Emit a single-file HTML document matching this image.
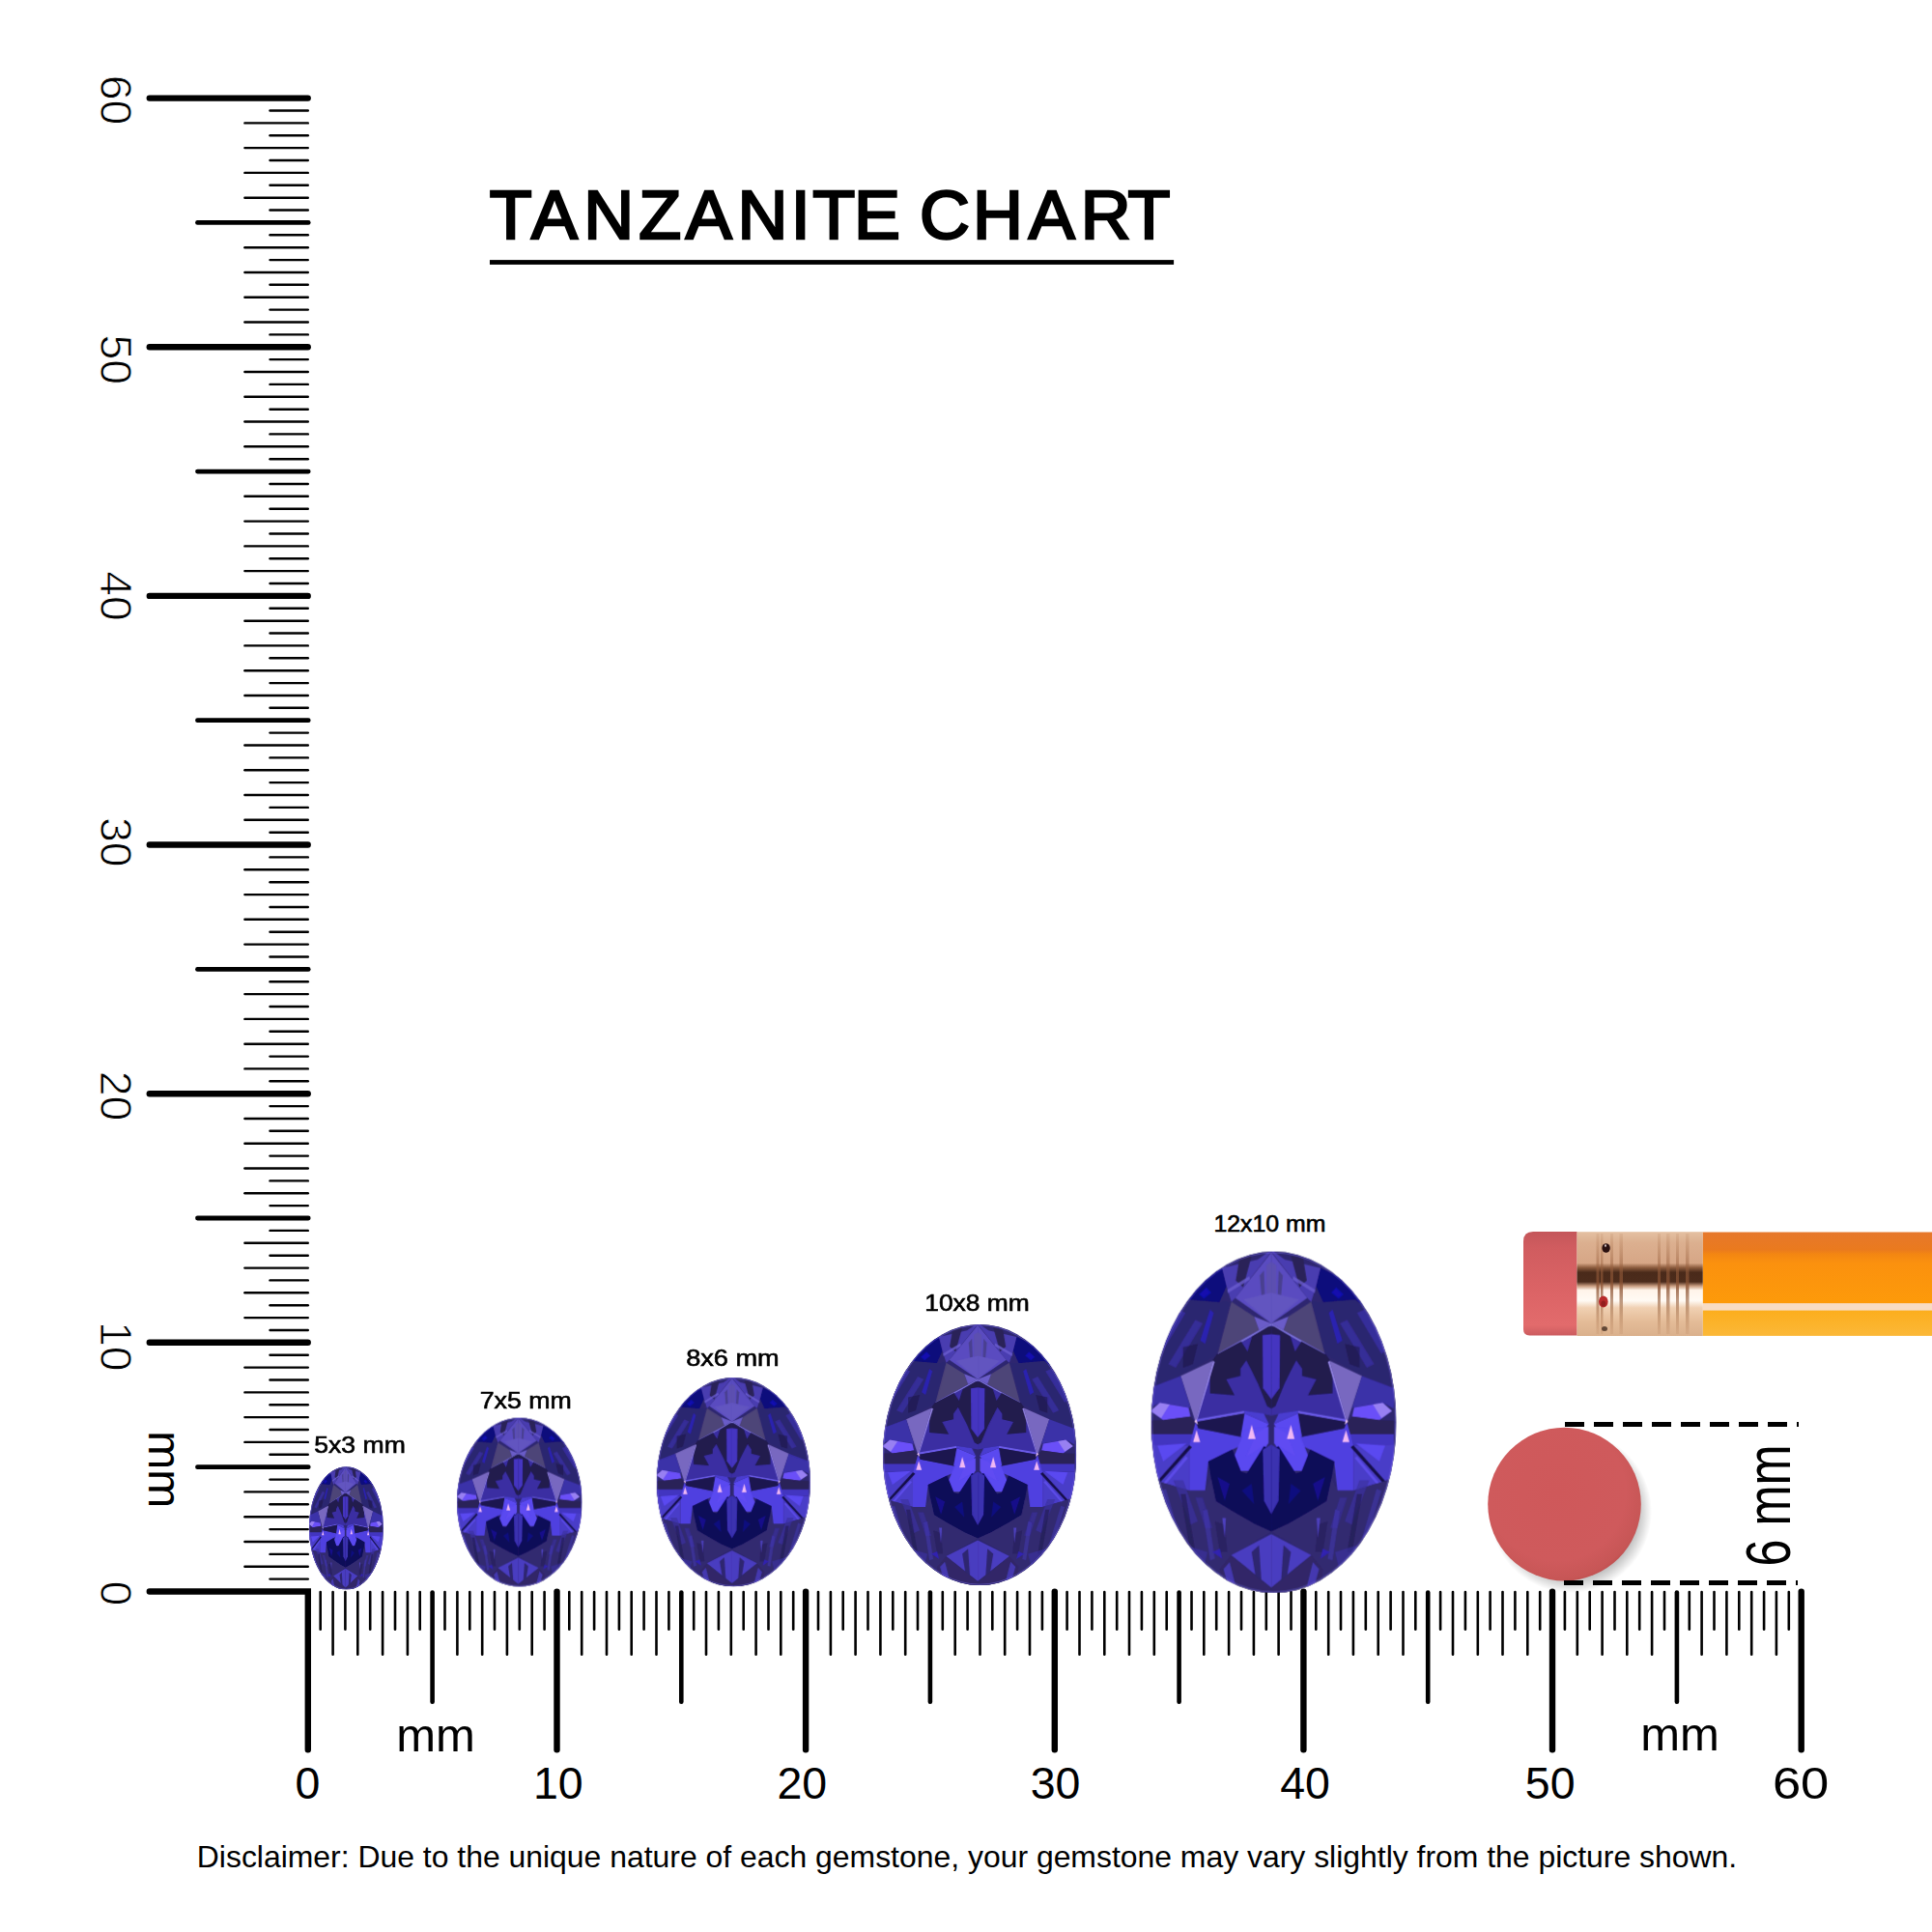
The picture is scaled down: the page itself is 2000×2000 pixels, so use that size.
<!DOCTYPE html><html><head><meta charset="utf-8"><title>Tanzanite Chart</title><style>html,body{margin:0;padding:0;background:#fff;width:2000px;height:2000px;overflow:hidden}svg{display:block}</style></head><body><svg width="2000" height="2000" viewBox="0 0 2000 2000"><g stroke="#000" stroke-linecap="round"><line x1="279.5" y1="1634.6" x2="318.8" y2="1634.6" stroke-width="2.4"/><line x1="253.4" y1="1621.7" x2="318.8" y2="1621.7" stroke-width="2.4"/><line x1="279.5" y1="1608.9" x2="318.8" y2="1608.9" stroke-width="2.4"/><line x1="253.4" y1="1596" x2="318.8" y2="1596" stroke-width="2.4"/><line x1="279.5" y1="1583.1" x2="318.8" y2="1583.1" stroke-width="2.4"/><line x1="253.4" y1="1570.2" x2="318.8" y2="1570.2" stroke-width="2.4"/><line x1="279.5" y1="1557.3" x2="318.8" y2="1557.3" stroke-width="2.4"/><line x1="253.4" y1="1544.4" x2="318.8" y2="1544.4" stroke-width="2.4"/><line x1="279.5" y1="1531.6" x2="318.8" y2="1531.6" stroke-width="2.4"/><line x1="204.5" y1="1518.7" x2="319.2" y2="1518.7" stroke-width="4.8"/><line x1="279.5" y1="1505.8" x2="318.8" y2="1505.8" stroke-width="2.4"/><line x1="253.4" y1="1492.9" x2="318.8" y2="1492.9" stroke-width="2.4"/><line x1="279.5" y1="1480" x2="318.8" y2="1480" stroke-width="2.4"/><line x1="253.4" y1="1467.1" x2="318.8" y2="1467.1" stroke-width="2.4"/><line x1="279.5" y1="1454.3" x2="318.8" y2="1454.3" stroke-width="2.4"/><line x1="253.4" y1="1441.4" x2="318.8" y2="1441.4" stroke-width="2.4"/><line x1="279.5" y1="1428.5" x2="318.8" y2="1428.5" stroke-width="2.4"/><line x1="253.4" y1="1415.6" x2="318.8" y2="1415.6" stroke-width="2.4"/><line x1="279.5" y1="1402.7" x2="318.8" y2="1402.7" stroke-width="2.4"/><line x1="154.8" y1="1389.8" x2="318.7" y2="1389.8" stroke-width="6.4"/><line x1="279.5" y1="1377" x2="318.8" y2="1377" stroke-width="2.4"/><line x1="253.4" y1="1364.1" x2="318.8" y2="1364.1" stroke-width="2.4"/><line x1="279.5" y1="1351.2" x2="318.8" y2="1351.2" stroke-width="2.4"/><line x1="253.4" y1="1338.3" x2="318.8" y2="1338.3" stroke-width="2.4"/><line x1="279.5" y1="1325.4" x2="318.8" y2="1325.4" stroke-width="2.4"/><line x1="253.4" y1="1312.6" x2="318.8" y2="1312.6" stroke-width="2.4"/><line x1="279.5" y1="1299.7" x2="318.8" y2="1299.7" stroke-width="2.4"/><line x1="253.4" y1="1286.8" x2="318.8" y2="1286.8" stroke-width="2.4"/><line x1="279.5" y1="1273.9" x2="318.8" y2="1273.9" stroke-width="2.4"/><line x1="204.5" y1="1261" x2="319.2" y2="1261" stroke-width="4.8"/><line x1="279.5" y1="1248.1" x2="318.8" y2="1248.1" stroke-width="2.4"/><line x1="253.4" y1="1235.3" x2="318.8" y2="1235.3" stroke-width="2.4"/><line x1="279.5" y1="1222.4" x2="318.8" y2="1222.4" stroke-width="2.4"/><line x1="253.4" y1="1209.5" x2="318.8" y2="1209.5" stroke-width="2.4"/><line x1="279.5" y1="1196.6" x2="318.8" y2="1196.6" stroke-width="2.4"/><line x1="253.4" y1="1183.7" x2="318.8" y2="1183.7" stroke-width="2.4"/><line x1="279.5" y1="1170.8" x2="318.8" y2="1170.8" stroke-width="2.4"/><line x1="253.4" y1="1158" x2="318.8" y2="1158" stroke-width="2.4"/><line x1="279.5" y1="1145.1" x2="318.8" y2="1145.1" stroke-width="2.4"/><line x1="154.8" y1="1132.2" x2="318.7" y2="1132.2" stroke-width="6.4"/><line x1="279.5" y1="1119.3" x2="318.8" y2="1119.3" stroke-width="2.4"/><line x1="253.4" y1="1106.4" x2="318.8" y2="1106.4" stroke-width="2.4"/><line x1="279.5" y1="1093.6" x2="318.8" y2="1093.6" stroke-width="2.4"/><line x1="253.4" y1="1080.7" x2="318.8" y2="1080.7" stroke-width="2.4"/><line x1="279.5" y1="1067.8" x2="318.8" y2="1067.8" stroke-width="2.4"/><line x1="253.4" y1="1054.9" x2="318.8" y2="1054.9" stroke-width="2.4"/><line x1="279.5" y1="1042" x2="318.8" y2="1042" stroke-width="2.4"/><line x1="253.4" y1="1029.1" x2="318.8" y2="1029.1" stroke-width="2.4"/><line x1="279.5" y1="1016.3" x2="318.8" y2="1016.3" stroke-width="2.4"/><line x1="204.5" y1="1003.4" x2="319.2" y2="1003.4" stroke-width="4.8"/><line x1="279.5" y1="990.5" x2="318.8" y2="990.5" stroke-width="2.4"/><line x1="253.4" y1="977.6" x2="318.8" y2="977.6" stroke-width="2.4"/><line x1="279.5" y1="964.7" x2="318.8" y2="964.7" stroke-width="2.4"/><line x1="253.4" y1="951.8" x2="318.8" y2="951.8" stroke-width="2.4"/><line x1="279.5" y1="939" x2="318.8" y2="939" stroke-width="2.4"/><line x1="253.4" y1="926.1" x2="318.8" y2="926.1" stroke-width="2.4"/><line x1="279.5" y1="913.2" x2="318.8" y2="913.2" stroke-width="2.4"/><line x1="253.4" y1="900.3" x2="318.8" y2="900.3" stroke-width="2.4"/><line x1="279.5" y1="887.4" x2="318.8" y2="887.4" stroke-width="2.4"/><line x1="154.8" y1="874.5" x2="318.7" y2="874.5" stroke-width="6.4"/><line x1="279.5" y1="861.7" x2="318.8" y2="861.7" stroke-width="2.4"/><line x1="253.4" y1="848.8" x2="318.8" y2="848.8" stroke-width="2.4"/><line x1="279.5" y1="835.9" x2="318.8" y2="835.9" stroke-width="2.4"/><line x1="253.4" y1="823" x2="318.8" y2="823" stroke-width="2.4"/><line x1="279.5" y1="810.1" x2="318.8" y2="810.1" stroke-width="2.4"/><line x1="253.4" y1="797.3" x2="318.8" y2="797.3" stroke-width="2.4"/><line x1="279.5" y1="784.4" x2="318.8" y2="784.4" stroke-width="2.4"/><line x1="253.4" y1="771.5" x2="318.8" y2="771.5" stroke-width="2.4"/><line x1="279.5" y1="758.6" x2="318.8" y2="758.6" stroke-width="2.4"/><line x1="204.5" y1="745.7" x2="319.2" y2="745.7" stroke-width="4.8"/><line x1="279.5" y1="732.8" x2="318.8" y2="732.8" stroke-width="2.4"/><line x1="253.4" y1="720" x2="318.8" y2="720" stroke-width="2.4"/><line x1="279.5" y1="707.1" x2="318.8" y2="707.1" stroke-width="2.4"/><line x1="253.4" y1="694.2" x2="318.8" y2="694.2" stroke-width="2.4"/><line x1="279.5" y1="681.3" x2="318.8" y2="681.3" stroke-width="2.4"/><line x1="253.4" y1="668.4" x2="318.8" y2="668.4" stroke-width="2.4"/><line x1="279.5" y1="655.5" x2="318.8" y2="655.5" stroke-width="2.4"/><line x1="253.4" y1="642.7" x2="318.8" y2="642.7" stroke-width="2.4"/><line x1="279.5" y1="629.8" x2="318.8" y2="629.8" stroke-width="2.4"/><line x1="154.8" y1="616.9" x2="318.7" y2="616.9" stroke-width="6.4"/><line x1="279.5" y1="604" x2="318.8" y2="604" stroke-width="2.4"/><line x1="253.4" y1="591.1" x2="318.8" y2="591.1" stroke-width="2.4"/><line x1="279.5" y1="578.3" x2="318.8" y2="578.3" stroke-width="2.4"/><line x1="253.4" y1="565.4" x2="318.8" y2="565.4" stroke-width="2.4"/><line x1="279.5" y1="552.5" x2="318.8" y2="552.5" stroke-width="2.4"/><line x1="253.4" y1="539.6" x2="318.8" y2="539.6" stroke-width="2.4"/><line x1="279.5" y1="526.7" x2="318.8" y2="526.7" stroke-width="2.4"/><line x1="253.4" y1="513.8" x2="318.8" y2="513.8" stroke-width="2.4"/><line x1="279.5" y1="501" x2="318.8" y2="501" stroke-width="2.4"/><line x1="204.5" y1="488.1" x2="319.2" y2="488.1" stroke-width="4.8"/><line x1="279.5" y1="475.2" x2="318.8" y2="475.2" stroke-width="2.4"/><line x1="253.4" y1="462.3" x2="318.8" y2="462.3" stroke-width="2.4"/><line x1="279.5" y1="449.4" x2="318.8" y2="449.4" stroke-width="2.4"/><line x1="253.4" y1="436.5" x2="318.8" y2="436.5" stroke-width="2.4"/><line x1="279.5" y1="423.7" x2="318.8" y2="423.7" stroke-width="2.4"/><line x1="253.4" y1="410.8" x2="318.8" y2="410.8" stroke-width="2.4"/><line x1="279.5" y1="397.9" x2="318.8" y2="397.9" stroke-width="2.4"/><line x1="253.4" y1="385" x2="318.8" y2="385" stroke-width="2.4"/><line x1="279.5" y1="372.1" x2="318.8" y2="372.1" stroke-width="2.4"/><line x1="154.8" y1="359.2" x2="318.7" y2="359.2" stroke-width="6.4"/><line x1="279.5" y1="346.4" x2="318.8" y2="346.4" stroke-width="2.4"/><line x1="253.4" y1="333.5" x2="318.8" y2="333.5" stroke-width="2.4"/><line x1="279.5" y1="320.6" x2="318.8" y2="320.6" stroke-width="2.4"/><line x1="253.4" y1="307.7" x2="318.8" y2="307.7" stroke-width="2.4"/><line x1="279.5" y1="294.8" x2="318.8" y2="294.8" stroke-width="2.4"/><line x1="253.4" y1="282" x2="318.8" y2="282" stroke-width="2.4"/><line x1="279.5" y1="269.1" x2="318.8" y2="269.1" stroke-width="2.4"/><line x1="253.4" y1="256.2" x2="318.8" y2="256.2" stroke-width="2.4"/><line x1="279.5" y1="243.3" x2="318.8" y2="243.3" stroke-width="2.4"/><line x1="204.5" y1="230.4" x2="319.2" y2="230.4" stroke-width="4.8"/><line x1="279.5" y1="217.5" x2="318.8" y2="217.5" stroke-width="2.4"/><line x1="253.4" y1="204.7" x2="318.8" y2="204.7" stroke-width="2.4"/><line x1="279.5" y1="191.8" x2="318.8" y2="191.8" stroke-width="2.4"/><line x1="253.4" y1="178.9" x2="318.8" y2="178.9" stroke-width="2.4"/><line x1="279.5" y1="166" x2="318.8" y2="166" stroke-width="2.4"/><line x1="253.4" y1="153.1" x2="318.8" y2="153.1" stroke-width="2.4"/><line x1="279.5" y1="140.2" x2="318.8" y2="140.2" stroke-width="2.4"/><line x1="253.4" y1="127.4" x2="318.8" y2="127.4" stroke-width="2.4"/><line x1="279.5" y1="114.5" x2="318.8" y2="114.5" stroke-width="2.4"/><line x1="154.8" y1="101.6" x2="318.7" y2="101.6" stroke-width="6.4"/></g><g stroke="#000" stroke-linecap="round"><line x1="331.7" y1="1648" x2="331.7" y2="1686.7" stroke-width="2.6"/><line x1="344.6" y1="1648" x2="344.6" y2="1712.7" stroke-width="2.6"/><line x1="357.4" y1="1648" x2="357.4" y2="1686.7" stroke-width="2.6"/><line x1="370.3" y1="1648" x2="370.3" y2="1712.7" stroke-width="2.6"/><line x1="383.2" y1="1648" x2="383.2" y2="1686.7" stroke-width="2.6"/><line x1="396.1" y1="1648" x2="396.1" y2="1712.7" stroke-width="2.6"/><line x1="409" y1="1648" x2="409" y2="1686.7" stroke-width="2.6"/><line x1="421.9" y1="1648" x2="421.9" y2="1712.7" stroke-width="2.6"/><line x1="434.7" y1="1648" x2="434.7" y2="1686.7" stroke-width="2.6"/><line x1="447.6" y1="1648.5" x2="447.6" y2="1761.8" stroke-width="4.6"/><line x1="460.5" y1="1648" x2="460.5" y2="1686.7" stroke-width="2.6"/><line x1="473.4" y1="1648" x2="473.4" y2="1712.7" stroke-width="2.6"/><line x1="486.3" y1="1648" x2="486.3" y2="1686.7" stroke-width="2.6"/><line x1="499.2" y1="1648" x2="499.2" y2="1712.7" stroke-width="2.6"/><line x1="512" y1="1648" x2="512" y2="1686.7" stroke-width="2.6"/><line x1="524.9" y1="1648" x2="524.9" y2="1712.7" stroke-width="2.6"/><line x1="537.8" y1="1648" x2="537.8" y2="1686.7" stroke-width="2.6"/><line x1="550.7" y1="1648" x2="550.7" y2="1712.7" stroke-width="2.6"/><line x1="563.6" y1="1648" x2="563.6" y2="1686.7" stroke-width="2.6"/><line x1="576.5" y1="1647.6" x2="576.5" y2="1811.3" stroke-width="6.4"/><line x1="589.3" y1="1648" x2="589.3" y2="1686.7" stroke-width="2.6"/><line x1="602.2" y1="1648" x2="602.2" y2="1712.7" stroke-width="2.6"/><line x1="615.1" y1="1648" x2="615.1" y2="1686.7" stroke-width="2.6"/><line x1="628" y1="1648" x2="628" y2="1712.7" stroke-width="2.6"/><line x1="640.9" y1="1648" x2="640.9" y2="1686.7" stroke-width="2.6"/><line x1="653.7" y1="1648" x2="653.7" y2="1712.7" stroke-width="2.6"/><line x1="666.6" y1="1648" x2="666.6" y2="1686.7" stroke-width="2.6"/><line x1="679.5" y1="1648" x2="679.5" y2="1712.7" stroke-width="2.6"/><line x1="692.4" y1="1648" x2="692.4" y2="1686.7" stroke-width="2.6"/><line x1="705.3" y1="1648.5" x2="705.3" y2="1761.8" stroke-width="4.6"/><line x1="718.2" y1="1648" x2="718.2" y2="1686.7" stroke-width="2.6"/><line x1="731" y1="1648" x2="731" y2="1712.7" stroke-width="2.6"/><line x1="743.9" y1="1648" x2="743.9" y2="1686.7" stroke-width="2.6"/><line x1="756.8" y1="1648" x2="756.8" y2="1712.7" stroke-width="2.6"/><line x1="769.7" y1="1648" x2="769.7" y2="1686.7" stroke-width="2.6"/><line x1="782.6" y1="1648" x2="782.6" y2="1712.7" stroke-width="2.6"/><line x1="795.5" y1="1648" x2="795.5" y2="1686.7" stroke-width="2.6"/><line x1="808.3" y1="1648" x2="808.3" y2="1712.7" stroke-width="2.6"/><line x1="821.2" y1="1648" x2="821.2" y2="1686.7" stroke-width="2.6"/><line x1="834.1" y1="1647.6" x2="834.1" y2="1811.3" stroke-width="6.4"/><line x1="847" y1="1648" x2="847" y2="1686.7" stroke-width="2.6"/><line x1="859.9" y1="1648" x2="859.9" y2="1712.7" stroke-width="2.6"/><line x1="872.7" y1="1648" x2="872.7" y2="1686.7" stroke-width="2.6"/><line x1="885.6" y1="1648" x2="885.6" y2="1712.7" stroke-width="2.6"/><line x1="898.5" y1="1648" x2="898.5" y2="1686.7" stroke-width="2.6"/><line x1="911.4" y1="1648" x2="911.4" y2="1712.7" stroke-width="2.6"/><line x1="924.3" y1="1648" x2="924.3" y2="1686.7" stroke-width="2.6"/><line x1="937.2" y1="1648" x2="937.2" y2="1712.7" stroke-width="2.6"/><line x1="950" y1="1648" x2="950" y2="1686.7" stroke-width="2.6"/><line x1="962.9" y1="1648.5" x2="962.9" y2="1761.8" stroke-width="4.6"/><line x1="975.8" y1="1648" x2="975.8" y2="1686.7" stroke-width="2.6"/><line x1="988.7" y1="1648" x2="988.7" y2="1712.7" stroke-width="2.6"/><line x1="1001.6" y1="1648" x2="1001.6" y2="1686.7" stroke-width="2.6"/><line x1="1014.5" y1="1648" x2="1014.5" y2="1712.7" stroke-width="2.6"/><line x1="1027.3" y1="1648" x2="1027.3" y2="1686.7" stroke-width="2.6"/><line x1="1040.2" y1="1648" x2="1040.2" y2="1712.7" stroke-width="2.6"/><line x1="1053.1" y1="1648" x2="1053.1" y2="1686.7" stroke-width="2.6"/><line x1="1066" y1="1648" x2="1066" y2="1712.7" stroke-width="2.6"/><line x1="1078.9" y1="1648" x2="1078.9" y2="1686.7" stroke-width="2.6"/><line x1="1091.8" y1="1647.6" x2="1091.8" y2="1811.3" stroke-width="6.4"/><line x1="1104.6" y1="1648" x2="1104.6" y2="1686.7" stroke-width="2.6"/><line x1="1117.5" y1="1648" x2="1117.5" y2="1712.7" stroke-width="2.6"/><line x1="1130.4" y1="1648" x2="1130.4" y2="1686.7" stroke-width="2.6"/><line x1="1143.3" y1="1648" x2="1143.3" y2="1712.7" stroke-width="2.6"/><line x1="1156.2" y1="1648" x2="1156.2" y2="1686.7" stroke-width="2.6"/><line x1="1169" y1="1648" x2="1169" y2="1712.7" stroke-width="2.6"/><line x1="1181.9" y1="1648" x2="1181.9" y2="1686.7" stroke-width="2.6"/><line x1="1194.8" y1="1648" x2="1194.8" y2="1712.7" stroke-width="2.6"/><line x1="1207.7" y1="1648" x2="1207.7" y2="1686.7" stroke-width="2.6"/><line x1="1220.6" y1="1648.5" x2="1220.6" y2="1761.8" stroke-width="4.6"/><line x1="1233.5" y1="1648" x2="1233.5" y2="1686.7" stroke-width="2.6"/><line x1="1246.3" y1="1648" x2="1246.3" y2="1712.7" stroke-width="2.6"/><line x1="1259.2" y1="1648" x2="1259.2" y2="1686.7" stroke-width="2.6"/><line x1="1272.1" y1="1648" x2="1272.1" y2="1712.7" stroke-width="2.6"/><line x1="1285" y1="1648" x2="1285" y2="1686.7" stroke-width="2.6"/><line x1="1297.9" y1="1648" x2="1297.9" y2="1712.7" stroke-width="2.6"/><line x1="1310.8" y1="1648" x2="1310.8" y2="1686.7" stroke-width="2.6"/><line x1="1323.6" y1="1648" x2="1323.6" y2="1712.7" stroke-width="2.6"/><line x1="1336.5" y1="1648" x2="1336.5" y2="1686.7" stroke-width="2.6"/><line x1="1349.4" y1="1647.6" x2="1349.4" y2="1811.3" stroke-width="6.4"/><line x1="1362.3" y1="1648" x2="1362.3" y2="1686.7" stroke-width="2.6"/><line x1="1375.2" y1="1648" x2="1375.2" y2="1712.7" stroke-width="2.6"/><line x1="1388" y1="1648" x2="1388" y2="1686.7" stroke-width="2.6"/><line x1="1400.9" y1="1648" x2="1400.9" y2="1712.7" stroke-width="2.6"/><line x1="1413.8" y1="1648" x2="1413.8" y2="1686.7" stroke-width="2.6"/><line x1="1426.7" y1="1648" x2="1426.7" y2="1712.7" stroke-width="2.6"/><line x1="1439.6" y1="1648" x2="1439.6" y2="1686.7" stroke-width="2.6"/><line x1="1452.5" y1="1648" x2="1452.5" y2="1712.7" stroke-width="2.6"/><line x1="1465.3" y1="1648" x2="1465.3" y2="1686.7" stroke-width="2.6"/><line x1="1478.2" y1="1648.5" x2="1478.2" y2="1761.8" stroke-width="4.6"/><line x1="1491.1" y1="1648" x2="1491.1" y2="1686.7" stroke-width="2.6"/><line x1="1504" y1="1648" x2="1504" y2="1712.7" stroke-width="2.6"/><line x1="1516.9" y1="1648" x2="1516.9" y2="1686.7" stroke-width="2.6"/><line x1="1529.8" y1="1648" x2="1529.8" y2="1712.7" stroke-width="2.6"/><line x1="1542.6" y1="1648" x2="1542.6" y2="1686.7" stroke-width="2.6"/><line x1="1555.5" y1="1648" x2="1555.5" y2="1712.7" stroke-width="2.6"/><line x1="1568.4" y1="1648" x2="1568.4" y2="1686.7" stroke-width="2.6"/><line x1="1581.3" y1="1648" x2="1581.3" y2="1712.7" stroke-width="2.6"/><line x1="1594.2" y1="1648" x2="1594.2" y2="1686.7" stroke-width="2.6"/><line x1="1607" y1="1647.6" x2="1607" y2="1811.3" stroke-width="6.4"/><line x1="1619.9" y1="1648" x2="1619.9" y2="1686.7" stroke-width="2.6"/><line x1="1632.8" y1="1648" x2="1632.8" y2="1712.7" stroke-width="2.6"/><line x1="1645.7" y1="1648" x2="1645.7" y2="1686.7" stroke-width="2.6"/><line x1="1658.6" y1="1648" x2="1658.6" y2="1712.7" stroke-width="2.6"/><line x1="1671.5" y1="1648" x2="1671.5" y2="1686.7" stroke-width="2.6"/><line x1="1684.3" y1="1648" x2="1684.3" y2="1712.7" stroke-width="2.6"/><line x1="1697.2" y1="1648" x2="1697.2" y2="1686.7" stroke-width="2.6"/><line x1="1710.1" y1="1648" x2="1710.1" y2="1712.7" stroke-width="2.6"/><line x1="1723" y1="1648" x2="1723" y2="1686.7" stroke-width="2.6"/><line x1="1735.9" y1="1648.5" x2="1735.9" y2="1761.8" stroke-width="4.6"/><line x1="1748.8" y1="1648" x2="1748.8" y2="1686.7" stroke-width="2.6"/><line x1="1761.6" y1="1648" x2="1761.6" y2="1712.7" stroke-width="2.6"/><line x1="1774.5" y1="1648" x2="1774.5" y2="1686.7" stroke-width="2.6"/><line x1="1787.4" y1="1648" x2="1787.4" y2="1712.7" stroke-width="2.6"/><line x1="1800.3" y1="1648" x2="1800.3" y2="1686.7" stroke-width="2.6"/><line x1="1813.2" y1="1648" x2="1813.2" y2="1712.7" stroke-width="2.6"/><line x1="1826.1" y1="1648" x2="1826.1" y2="1686.7" stroke-width="2.6"/><line x1="1838.9" y1="1648" x2="1838.9" y2="1712.7" stroke-width="2.6"/><line x1="1851.8" y1="1648" x2="1851.8" y2="1686.7" stroke-width="2.6"/><line x1="1864.7" y1="1647.6" x2="1864.7" y2="1811.3" stroke-width="6.4"/></g><path d="M154.8 1647.5 H318.8 V1811.3" fill="none" stroke="#000" stroke-width="6.4" stroke-linecap="round" stroke-linejoin="miter"/><g font-family="'Liberation Sans', Arial, sans-serif" fill="#000"><text x="318.4" y="1861.8" text-anchor="middle" font-size="46.5">0</text><text x="577.8" y="1861.8" text-anchor="middle" font-size="46.5">10</text><text x="830.3" y="1861.8" text-anchor="middle" font-size="46.5">20</text><text x="1092.5" y="1861.8" text-anchor="middle" font-size="46.5">30</text><text x="1351" y="1861.8" text-anchor="middle" font-size="46.5">40</text><text x="1604.7" y="1861.8" text-anchor="middle" font-size="46.5">50</text><text transform="translate(1864.1 1861.8) scale(1.13 1)" text-anchor="middle" font-size="46.5">60</text><text x="451" y="1812.7" text-anchor="middle" font-size="49">mm</text><text x="1739" y="1811.9" text-anchor="middle" font-size="49">mm</text><text transform="translate(103.6 1649.5) rotate(90)" text-anchor="middle" font-size="46.5" stroke="#fff" stroke-width="0.9">0</text><text transform="translate(103.6 1393.8) rotate(90)" text-anchor="middle" font-size="46.5" stroke="#fff" stroke-width="0.9">10</text><text transform="translate(103.6 1134.5) rotate(90)" text-anchor="middle" font-size="46.5" stroke="#fff" stroke-width="0.9">20</text><text transform="translate(103.6 871.8) rotate(90)" text-anchor="middle" font-size="46.5" stroke="#fff" stroke-width="0.9">30</text><text transform="translate(103.6 617) rotate(90)" text-anchor="middle" font-size="46.5" stroke="#fff" stroke-width="0.9">40</text><text transform="translate(103.6 372.3) rotate(90)" text-anchor="middle" font-size="46.5" stroke="#fff" stroke-width="0.9">50</text><text transform="translate(103.6 103.6) rotate(90)" text-anchor="middle" font-size="46.5" stroke="#fff" stroke-width="0.9">60</text><text transform="translate(154 1521.2) rotate(90)" text-anchor="middle" font-size="48">mm</text><text transform="translate(1852.5 1558.4) rotate(-90) scale(0.782 1)" text-anchor="middle" font-size="64.5">6 mm</text></g><text transform="translate(0 246.75) scale(1.02 1)" x="496.82 539.28 592.42 648.30 695.95 748.50 802.80 824.71 866.73 913.75 933.31 987.17 1043.99 1096.72 1144.66" y="0" font-size="70.5" font-family="'Liberation Sans', Arial, sans-serif" stroke="#000" stroke-width="2.5" fill="#000">TANZANITE CHART</text><rect x="507" y="269.1" width="708.1" height="4.8" fill="#000"/><text x="203.8" y="1932.7" font-family="'Liberation Sans', Arial, sans-serif" font-size="31.6" textLength="1594.4" lengthAdjust="spacingAndGlyphs">Disclaimer: Due to the unique nature of each gemstone, your gemstone may vary slightly from the picture shown.</text><defs><filter id="soft" x="-5%" y="-5%" width="110%" height="110%"><feGaussianBlur stdDeviation="0.6"/></filter></defs><g filter="url(#soft)"><svg x="320" y="1518.2" width="76.9" height="127.4" viewBox="0 0 100 100" preserveAspectRatio="none"><defs><clipPath id="gc0"><ellipse cx="50" cy="50" rx="50" ry="50"/></clipPath></defs><g clip-path="url(#gc0)"><rect x="0" y="0" width="100" height="100" fill="#2e2870"/><g transform="translate(-1 0)"><rect x="0" y="0" width="102" height="100" fill="#2e2870"/><polygon points="0,14 15.7,14 28.8,14.8 33.7,14.7 28.2,29.8 13,36.4 0,40" fill="#2c2670"/><polygon points="100,40 87,36.4 71.8,29.8 66.3,14.7 71.2,14.8 84.3,14 100,14" fill="#2c2670"/><polygon points="2,28 12,17 15,18 5,30" fill="#3a30a8" opacity="0.75"/><polygon points="95,30 85,18 88,17 98,28" fill="#3a30a8" opacity="0.75"/><polygon points="8,33 19,20 22,21 11,34" fill="#3a30a8" opacity="0.7"/><polygon points="89,34 78,21 81,20 92,33" fill="#3a30a8" opacity="0.7"/><polygon points="21,26 25,17 26.5,18 23,27" fill="#2a20c0" opacity="0.8"/><polygon points="77,27 73.5,18 75,17 79,26" fill="#2a20c0" opacity="0.8"/><polygon points="14,28 20,27 18,33 14,34" fill="#1c1748" opacity="0.6"/><polygon points="86,34 82,33 80,27 86,28" fill="#1c1748" opacity="0.6"/><polygon points="4,21 15.7,14 28.8,14.8 31.7,10.1 29.9,4.8 18,9" fill="#0a087c"/><polygon points="82,9 70.1,4.8 68.3,10.1 71.2,14.8 84.3,14 96,21" fill="#0a087c"/><polygon points="20.5,12.5 23.5,10.5 25.5,12 22.5,13.8" fill="#1818d0" opacity="0.6"/><polygon points="77.5,13.8 74.5,12 76.5,10.5 79.5,12.5" fill="#1818d0" opacity="0.6"/><polygon points="29.9,4.8 44.5,2.3 49,0 50,0 35.3,13.6 33.7,14.7 31.7,10.1" fill="#4a3cb0"/><polygon points="68.3,10.1 66.3,14.7 64.7,13.6 50,0 51,0 55.5,2.3 70.1,4.8" fill="#4a3cb0"/><polygon points="37,2 42,1.2 38.5,10.5 35.5,8.5" fill="#2a2458"/><polygon points="64.5,8.5 61.5,10.5 58,1.2 63,2" fill="#2a2458"/><polygon points="32,11.2 41,7.2 41.3,8.2 32.3,12.2" fill="#6a5cd0" opacity="0.8"/><polygon points="67.7,12.2 58.7,8.2 59,7.2 68,11.2" fill="#6a5cd0" opacity="0.8"/><polygon points="50,0.3 35.3,13.6 50,21" fill="#5a4cc0"/><polygon points="50,21 64.7,13.6 50,0.3" fill="#5a4cc0"/><polygon points="45.3,7 47,5.5 47.6,17 46,13" fill="#4a4090"/><polygon points="54,13 52.4,17 53,5.5 54.7,7" fill="#4a4090"/><polygon points="48,4 50,3 50,17 48,16" fill="#5c50b0"/><polygon points="52,16 50,17 50,3 52,4" fill="#5c50b0"/><polygon points="38.5,14 50,12 50,21" fill="#6254c0"/><polygon points="50,21 50,12 61.5,14" fill="#6254c0"/><polygon points="33.7,14.7 43,19 45,23 28.2,29.8" fill="#4e4478"/><polygon points="71.8,29.8 55,23 57,19 66.3,14.7" fill="#4e4478"/><polygon points="43,19 50,21 45,23" fill="#6a5cc8"/><polygon points="55,23 50,21 57,19" fill="#6a5cc8"/><polygon points="28.2,29.8 50,21 50,21.7 28.2,30.5" fill="#7a70d8"/><polygon points="71.8,30.5 50,21.7 50,21 71.8,29.8" fill="#7a70d8"/><polygon points="28.2,30.5 50,21.7 50,48 39.1,46.6 19.6,49.1 19.1,50 26.2,32" fill="#3a2ea2"/><polygon points="73.8,32 80.9,50 80.4,49.1 60.9,46.6 50,48 50,21.7 71.8,30.5" fill="#3a2ea2"/><polygon points="27.6,30.2 37.7,26.3 40.3,29.3 42.2,24.8 48.9,21.9 50,21.9 50,46 48.3,45.3 44.6,38.7 42,34.9 39.8,31.8 37.4,34.3 37.4,36.4 31.6,37.4 35,42.1 25,41.5 25,33" fill="#201a4e"/><polygon points="75,33 75,41.5 65,42.1 68.4,37.4 62.6,36.4 62.6,34.3 60.2,31.8 58,34.9 55.4,38.7 51.7,45.3 50,46 50,21.9 51.1,21.9 57.8,24.8 59.7,29.3 62.3,26.3 72.4,30.2" fill="#201a4e"/><polygon points="46.4,24.5 50,24.2 50,43.3 46.6,40" fill="#4434c0"/><polygon points="53.4,40 50,43.3 50,24.2 53.6,24.5" fill="#4434c0"/><polygon points="13,36.4 26.2,32 19.1,50" fill="#7868c0"/><polygon points="80.9,50 73.8,32 87,36.4" fill="#7868c0"/><polygon points="26.2,32 26.9,32.3 19.5,50 19.1,50" fill="#9484e4"/><polygon points="80.9,50 80.5,50 73.1,32.3 73.8,32" fill="#9484e4"/><polygon points="0,40 13,36.4 17,45.7 4.5,44.3 0,46" fill="#3a30a8"/><polygon points="100,46 95.5,44.3 83,45.7 87,36.4 100,40" fill="#3a30a8"/><polygon points="0.8,46.7 4.5,44.3 16.2,45.7 17,48.3 5.9,49.4" fill="#6a50f8"/><polygon points="94.1,49.4 83,48.3 83.8,45.7 95.5,44.3 99.2,46.7" fill="#6a50f8"/><polygon points="0.8,46.7 4.5,44.3 8.5,44.8 5,48.8" fill="#a890f0" opacity="0.75"/><polygon points="95,48.8 91.5,44.8 95.5,44.3 99.2,46.7" fill="#a890f0" opacity="0.75"/><polygon points="19.6,49.1 39.1,46.6 39.1,47.4 19.6,49.9" fill="#6a5ae8"/><polygon points="80.4,49.9 60.9,47.4 60.9,46.6 80.4,49.1" fill="#6a5ae8"/><polygon points="0,49.5 5.9,49.4 17,48.3 19.1,50 18,53.5 0,53.5" fill="#2a2058"/><polygon points="100,53.5 82,53.5 80.9,50 83,48.3 94.1,49.4 100,49.5" fill="#2a2058"/><polygon points="0,53.5 18,53.5 16.5,56.7 0,56.6" fill="#4234c0"/><polygon points="100,56.6 83.5,56.7 82,53.5 100,53.5" fill="#4234c0"/><polygon points="0,56.6 16.5,56.7 16.5,70 3.5,67.2 0,66" fill="#4a3cc8"/><polygon points="100,66 96.5,67.2 83.5,70 83.5,56.7 100,56.6" fill="#4a3cc8"/><polygon points="3.5,56.8 15.5,56.2 5.9,61.5" fill="#5a48f0"/><polygon points="94.1,61.5 84.5,56.2 96.5,56.8" fill="#5a48f0"/><polygon points="19.1,50 20.2,51.8 38.2,54.4 40,56 34.1,58 24.3,61.5 23,70 16.5,70 16.5,56.7" fill="#5040e0"/><polygon points="83.5,56.7 83.5,70 77,70 75.7,61.5 65.9,58 60,56 61.8,54.4 79.8,51.8 80.9,50" fill="#5040e0"/><polygon points="19.6,49.9 39.1,47.4 38.5,51 37.5,54.2 20.2,51.8" fill="#1c1650"/><polygon points="79.8,51.8 62.5,54.2 61.5,51 60.9,47.4 80.4,49.9" fill="#1c1650"/><polygon points="49,50.5 39.1,47.4 37.5,54.2 44,55.5" fill="#5a48f0"/><polygon points="56,55.5 62.5,54.2 60.9,47.4 51,50.5" fill="#5a48f0"/><polygon points="39.1,46.6 47,47.5 49,50.5 39.1,47.4" fill="#4a3cd0"/><polygon points="60.9,47.4 51,50.5 53,47.5 60.9,46.6" fill="#4a3cd0"/><polygon points="16.5,56.7 17.6,57.3 4.6,67.6 3.5,67.2" fill="#14104a"/><polygon points="96.5,67.2 95.4,67.6 82.4,57.3 83.5,56.7" fill="#14104a"/><polygon points="15,60 16,60.5 6,69 5,68.6" fill="#6050f0" opacity="0.8"/><polygon points="95,68.6 94,69 84,60.5 85,60" fill="#6050f0" opacity="0.8"/><polygon points="48.8,51.3 39.1,52.4 32.4,64.2 42.1,64.2 48.8,56.1" fill="#5a48f0"/><polygon points="51.2,56.1 57.9,64.2 67.6,64.2 60.9,52.4 51.2,51.3" fill="#5a48f0"/><polygon points="48.8,51.3 44,53 40,60 48.8,56.1" fill="#6450f4" opacity="0.6"/><polygon points="51.2,56.1 60,60 56,53 51.2,51.3" fill="#6450f4" opacity="0.6"/><polygon points="24.3,61.5 34.1,58 37.7,64.5 40,65 47,57 50,58 50,82 43.1,79.7 34.5,76.2 27.4,73.1 25.4,66.3" fill="#0c0858"/><polygon points="74.6,66.3 72.6,73.1 65.5,76.2 56.9,79.7 50,82 50,58 53,57 60,65 62.3,64.5 65.9,58 75.7,61.5" fill="#0c0858"/><polygon points="28,66 33,68 31,73" fill="#1a14a0" opacity="0.7"/><polygon points="69,73 67,68 72,66" fill="#1a14a0" opacity="0.7"/><polygon points="38,70 42,68 43,74" fill="#16129a" opacity="0.6"/><polygon points="57,74 58,68 62,70" fill="#16129a" opacity="0.6"/><polygon points="46.5,58 50,56.5 50,77 47,73" fill="#3a30b0"/><polygon points="53,73 50,77 50,56.5 53.5,58" fill="#3a30b0"/><polygon points="0,66 3.5,67.2 16.5,70 23,70 25.4,66.3 27.4,73.1 34.5,76.2 43.1,79.7 50,82 33.6,88.9 35,100 0,100" fill="#322a70"/><polygon points="100,100 65,100 66.4,88.9 50,82 56.9,79.7 65.5,76.2 72.6,73.1 74.6,66.3 77,70 83.5,70 96.5,67.2 100,66" fill="#322a70"/><polygon points="10,67 14,67 20,79 17,80" fill="#3a30a0" opacity="0.7"/><polygon points="83,80 80,79 86,67 90,67" fill="#3a30a0" opacity="0.7"/><polygon points="19,72 22,72 26,81 23,81" fill="#3a30a0" opacity="0.6"/><polygon points="77,81 74,81 78,72 81,72" fill="#3a30a0" opacity="0.6"/><polygon points="5,70 7,69.5 13,84 11,84.5" fill="#4236b0" opacity="0.55"/><polygon points="89,84.5 87,84 93,69.5 95,70" fill="#4236b0" opacity="0.55"/><polygon points="13,71 15,71 19,88 17,88" fill="#231d55" opacity="0.7"/><polygon points="83,88 81,88 85,71 87,71" fill="#231d55" opacity="0.7"/><polygon points="22,76 24,75.5 27,90 25,90.5" fill="#4438b8" opacity="0.5"/><polygon points="75,90.5 73,90 76,75.5 78,76" fill="#4438b8" opacity="0.5"/><polygon points="15,86 24,88 22,94 16,91" fill="#3a32a4" opacity="0.6"/><polygon points="84,91 78,94 76,88 85,86" fill="#3a32a4" opacity="0.6"/><polygon points="27,79 31,80 32,88 29,88" fill="#241e58" opacity="0.6"/><polygon points="71,88 68,88 69,80 73,79" fill="#241e58" opacity="0.6"/><polygon points="30,78 31.5,78 31,84" fill="#5a4ce0" opacity="0.7"/><polygon points="69,84 68.5,78 70,78" fill="#5a4ce0" opacity="0.7"/><polygon points="26,88 29,87 30,90" fill="#3020c0" opacity="0.8"/><polygon points="70,90 71,87 74,88" fill="#3020c0" opacity="0.8"/><polygon points="50,82.8 33.6,88.9 50,98.5" fill="#4a3cc0"/><polygon points="50,98.5 66.4,88.9 50,82.8" fill="#4a3cc0"/><polygon points="42,88 45,86 46,97 44,97" fill="#2e2670"/><polygon points="56,97 54,97 55,86 58,88" fill="#2e2670"/><polygon points="33.6,88.9 50,98.5 50,100 30,100 29,93" fill="#302868"/><polygon points="71,93 70,100 50,100 50,98.5 66.4,88.9" fill="#302868"/><polygon points="30.5,93 33,91 36,99.5 33,99.5" fill="#4a3cc0" opacity="0.8"/><polygon points="67,99.5 64,99.5 67,91 69.5,93" fill="#4a3cc0" opacity="0.8"/><polygon points="18.1,55.8 19.5,52.3 21,55.8" fill="#f0b8f4"/><polygon points="79,55.8 80.5,52.3 81.9,55.8" fill="#f0b8f4"/><polygon points="40.5,54.9 42,50.7 43.6,54.9" fill="#f0b8f4"/><polygon points="56.4,54.9 58,50.7 59.5,54.9" fill="#f0b8f4"/><polygon points="18.6,49.8 19.4,49.1 20.1,50.7" fill="#f0c8f4"/><polygon points="79.9,50.7 80.6,49.1 81.4,49.8" fill="#f0c8f4"/></g></g><ellipse cx="50" cy="50" rx="49.7" ry="49.7" fill="none" stroke="#7868e8" stroke-width="1" vector-effect="non-scaling-stroke" opacity="0.5"/></svg><svg x="473.1" y="1467.6" width="129.4" height="174.8" viewBox="0 0 100 100" preserveAspectRatio="none"><defs><clipPath id="gc1"><ellipse cx="50" cy="50" rx="50" ry="50"/></clipPath></defs><g clip-path="url(#gc1)"><rect x="0" y="0" width="100" height="100" fill="#2e2870"/><g transform="translate(-1 0)"><rect x="0" y="0" width="102" height="100" fill="#2e2870"/><polygon points="0,14 15.7,14 28.8,14.8 33.7,14.7 28.2,29.8 13,36.4 0,40" fill="#2c2670"/><polygon points="100,40 87,36.4 71.8,29.8 66.3,14.7 71.2,14.8 84.3,14 100,14" fill="#2c2670"/><polygon points="2,28 12,17 15,18 5,30" fill="#3a30a8" opacity="0.75"/><polygon points="95,30 85,18 88,17 98,28" fill="#3a30a8" opacity="0.75"/><polygon points="8,33 19,20 22,21 11,34" fill="#3a30a8" opacity="0.7"/><polygon points="89,34 78,21 81,20 92,33" fill="#3a30a8" opacity="0.7"/><polygon points="21,26 25,17 26.5,18 23,27" fill="#2a20c0" opacity="0.8"/><polygon points="77,27 73.5,18 75,17 79,26" fill="#2a20c0" opacity="0.8"/><polygon points="14,28 20,27 18,33 14,34" fill="#1c1748" opacity="0.6"/><polygon points="86,34 82,33 80,27 86,28" fill="#1c1748" opacity="0.6"/><polygon points="4,21 15.7,14 28.8,14.8 31.7,10.1 29.9,4.8 18,9" fill="#0a087c"/><polygon points="82,9 70.1,4.8 68.3,10.1 71.2,14.8 84.3,14 96,21" fill="#0a087c"/><polygon points="20.5,12.5 23.5,10.5 25.5,12 22.5,13.8" fill="#1818d0" opacity="0.6"/><polygon points="77.5,13.8 74.5,12 76.5,10.5 79.5,12.5" fill="#1818d0" opacity="0.6"/><polygon points="29.9,4.8 44.5,2.3 49,0 50,0 35.3,13.6 33.7,14.7 31.7,10.1" fill="#4a3cb0"/><polygon points="68.3,10.1 66.3,14.7 64.7,13.6 50,0 51,0 55.5,2.3 70.1,4.8" fill="#4a3cb0"/><polygon points="37,2 42,1.2 38.5,10.5 35.5,8.5" fill="#2a2458"/><polygon points="64.5,8.5 61.5,10.5 58,1.2 63,2" fill="#2a2458"/><polygon points="32,11.2 41,7.2 41.3,8.2 32.3,12.2" fill="#6a5cd0" opacity="0.8"/><polygon points="67.7,12.2 58.7,8.2 59,7.2 68,11.2" fill="#6a5cd0" opacity="0.8"/><polygon points="50,0.3 35.3,13.6 50,21" fill="#5a4cc0"/><polygon points="50,21 64.7,13.6 50,0.3" fill="#5a4cc0"/><polygon points="45.3,7 47,5.5 47.6,17 46,13" fill="#4a4090"/><polygon points="54,13 52.4,17 53,5.5 54.7,7" fill="#4a4090"/><polygon points="48,4 50,3 50,17 48,16" fill="#5c50b0"/><polygon points="52,16 50,17 50,3 52,4" fill="#5c50b0"/><polygon points="38.5,14 50,12 50,21" fill="#6254c0"/><polygon points="50,21 50,12 61.5,14" fill="#6254c0"/><polygon points="33.7,14.7 43,19 45,23 28.2,29.8" fill="#4e4478"/><polygon points="71.8,29.8 55,23 57,19 66.3,14.7" fill="#4e4478"/><polygon points="43,19 50,21 45,23" fill="#6a5cc8"/><polygon points="55,23 50,21 57,19" fill="#6a5cc8"/><polygon points="28.2,29.8 50,21 50,21.7 28.2,30.5" fill="#7a70d8"/><polygon points="71.8,30.5 50,21.7 50,21 71.8,29.8" fill="#7a70d8"/><polygon points="28.2,30.5 50,21.7 50,48 39.1,46.6 19.6,49.1 19.1,50 26.2,32" fill="#3a2ea2"/><polygon points="73.8,32 80.9,50 80.4,49.1 60.9,46.6 50,48 50,21.7 71.8,30.5" fill="#3a2ea2"/><polygon points="27.6,30.2 37.7,26.3 40.3,29.3 42.2,24.8 48.9,21.9 50,21.9 50,46 48.3,45.3 44.6,38.7 42,34.9 39.8,31.8 37.4,34.3 37.4,36.4 31.6,37.4 35,42.1 25,41.5 25,33" fill="#201a4e"/><polygon points="75,33 75,41.5 65,42.1 68.4,37.4 62.6,36.4 62.6,34.3 60.2,31.8 58,34.9 55.4,38.7 51.7,45.3 50,46 50,21.9 51.1,21.9 57.8,24.8 59.7,29.3 62.3,26.3 72.4,30.2" fill="#201a4e"/><polygon points="46.4,24.5 50,24.2 50,43.3 46.6,40" fill="#4434c0"/><polygon points="53.4,40 50,43.3 50,24.2 53.6,24.5" fill="#4434c0"/><polygon points="13,36.4 26.2,32 19.1,50" fill="#7868c0"/><polygon points="80.9,50 73.8,32 87,36.4" fill="#7868c0"/><polygon points="26.2,32 26.9,32.3 19.5,50 19.1,50" fill="#9484e4"/><polygon points="80.9,50 80.5,50 73.1,32.3 73.8,32" fill="#9484e4"/><polygon points="0,40 13,36.4 17,45.7 4.5,44.3 0,46" fill="#3a30a8"/><polygon points="100,46 95.5,44.3 83,45.7 87,36.4 100,40" fill="#3a30a8"/><polygon points="0.8,46.7 4.5,44.3 16.2,45.7 17,48.3 5.9,49.4" fill="#6a50f8"/><polygon points="94.1,49.4 83,48.3 83.8,45.7 95.5,44.3 99.2,46.7" fill="#6a50f8"/><polygon points="0.8,46.7 4.5,44.3 8.5,44.8 5,48.8" fill="#a890f0" opacity="0.75"/><polygon points="95,48.8 91.5,44.8 95.5,44.3 99.2,46.7" fill="#a890f0" opacity="0.75"/><polygon points="19.6,49.1 39.1,46.6 39.1,47.4 19.6,49.9" fill="#6a5ae8"/><polygon points="80.4,49.9 60.9,47.4 60.9,46.6 80.4,49.1" fill="#6a5ae8"/><polygon points="0,49.5 5.9,49.4 17,48.3 19.1,50 18,53.5 0,53.5" fill="#2a2058"/><polygon points="100,53.5 82,53.5 80.9,50 83,48.3 94.1,49.4 100,49.5" fill="#2a2058"/><polygon points="0,53.5 18,53.5 16.5,56.7 0,56.6" fill="#4234c0"/><polygon points="100,56.6 83.5,56.7 82,53.5 100,53.5" fill="#4234c0"/><polygon points="0,56.6 16.5,56.7 16.5,70 3.5,67.2 0,66" fill="#4a3cc8"/><polygon points="100,66 96.5,67.2 83.5,70 83.5,56.7 100,56.6" fill="#4a3cc8"/><polygon points="3.5,56.8 15.5,56.2 5.9,61.5" fill="#5a48f0"/><polygon points="94.1,61.5 84.5,56.2 96.5,56.8" fill="#5a48f0"/><polygon points="19.1,50 20.2,51.8 38.2,54.4 40,56 34.1,58 24.3,61.5 23,70 16.5,70 16.5,56.7" fill="#5040e0"/><polygon points="83.5,56.7 83.5,70 77,70 75.7,61.5 65.9,58 60,56 61.8,54.4 79.8,51.8 80.9,50" fill="#5040e0"/><polygon points="19.6,49.9 39.1,47.4 38.5,51 37.5,54.2 20.2,51.8" fill="#1c1650"/><polygon points="79.8,51.8 62.5,54.2 61.5,51 60.9,47.4 80.4,49.9" fill="#1c1650"/><polygon points="49,50.5 39.1,47.4 37.5,54.2 44,55.5" fill="#5a48f0"/><polygon points="56,55.5 62.5,54.2 60.9,47.4 51,50.5" fill="#5a48f0"/><polygon points="39.1,46.6 47,47.5 49,50.5 39.1,47.4" fill="#4a3cd0"/><polygon points="60.9,47.4 51,50.5 53,47.5 60.9,46.6" fill="#4a3cd0"/><polygon points="16.5,56.7 17.6,57.3 4.6,67.6 3.5,67.2" fill="#14104a"/><polygon points="96.5,67.2 95.4,67.6 82.4,57.3 83.5,56.7" fill="#14104a"/><polygon points="15,60 16,60.5 6,69 5,68.6" fill="#6050f0" opacity="0.8"/><polygon points="95,68.6 94,69 84,60.5 85,60" fill="#6050f0" opacity="0.8"/><polygon points="48.8,51.3 39.1,52.4 32.4,64.2 42.1,64.2 48.8,56.1" fill="#5a48f0"/><polygon points="51.2,56.1 57.9,64.2 67.6,64.2 60.9,52.4 51.2,51.3" fill="#5a48f0"/><polygon points="48.8,51.3 44,53 40,60 48.8,56.1" fill="#6450f4" opacity="0.6"/><polygon points="51.2,56.1 60,60 56,53 51.2,51.3" fill="#6450f4" opacity="0.6"/><polygon points="24.3,61.5 34.1,58 37.7,64.5 40,65 47,57 50,58 50,82 43.1,79.7 34.5,76.2 27.4,73.1 25.4,66.3" fill="#0c0858"/><polygon points="74.6,66.3 72.6,73.1 65.5,76.2 56.9,79.7 50,82 50,58 53,57 60,65 62.3,64.5 65.9,58 75.7,61.5" fill="#0c0858"/><polygon points="28,66 33,68 31,73" fill="#1a14a0" opacity="0.7"/><polygon points="69,73 67,68 72,66" fill="#1a14a0" opacity="0.7"/><polygon points="38,70 42,68 43,74" fill="#16129a" opacity="0.6"/><polygon points="57,74 58,68 62,70" fill="#16129a" opacity="0.6"/><polygon points="46.5,58 50,56.5 50,77 47,73" fill="#3a30b0"/><polygon points="53,73 50,77 50,56.5 53.5,58" fill="#3a30b0"/><polygon points="0,66 3.5,67.2 16.5,70 23,70 25.4,66.3 27.4,73.1 34.5,76.2 43.1,79.7 50,82 33.6,88.9 35,100 0,100" fill="#322a70"/><polygon points="100,100 65,100 66.4,88.9 50,82 56.9,79.7 65.5,76.2 72.6,73.1 74.6,66.3 77,70 83.5,70 96.5,67.2 100,66" fill="#322a70"/><polygon points="10,67 14,67 20,79 17,80" fill="#3a30a0" opacity="0.7"/><polygon points="83,80 80,79 86,67 90,67" fill="#3a30a0" opacity="0.7"/><polygon points="19,72 22,72 26,81 23,81" fill="#3a30a0" opacity="0.6"/><polygon points="77,81 74,81 78,72 81,72" fill="#3a30a0" opacity="0.6"/><polygon points="5,70 7,69.5 13,84 11,84.5" fill="#4236b0" opacity="0.55"/><polygon points="89,84.5 87,84 93,69.5 95,70" fill="#4236b0" opacity="0.55"/><polygon points="13,71 15,71 19,88 17,88" fill="#231d55" opacity="0.7"/><polygon points="83,88 81,88 85,71 87,71" fill="#231d55" opacity="0.7"/><polygon points="22,76 24,75.5 27,90 25,90.5" fill="#4438b8" opacity="0.5"/><polygon points="75,90.5 73,90 76,75.5 78,76" fill="#4438b8" opacity="0.5"/><polygon points="15,86 24,88 22,94 16,91" fill="#3a32a4" opacity="0.6"/><polygon points="84,91 78,94 76,88 85,86" fill="#3a32a4" opacity="0.6"/><polygon points="27,79 31,80 32,88 29,88" fill="#241e58" opacity="0.6"/><polygon points="71,88 68,88 69,80 73,79" fill="#241e58" opacity="0.6"/><polygon points="30,78 31.5,78 31,84" fill="#5a4ce0" opacity="0.7"/><polygon points="69,84 68.5,78 70,78" fill="#5a4ce0" opacity="0.7"/><polygon points="26,88 29,87 30,90" fill="#3020c0" opacity="0.8"/><polygon points="70,90 71,87 74,88" fill="#3020c0" opacity="0.8"/><polygon points="50,82.8 33.6,88.9 50,98.5" fill="#4a3cc0"/><polygon points="50,98.5 66.4,88.9 50,82.8" fill="#4a3cc0"/><polygon points="42,88 45,86 46,97 44,97" fill="#2e2670"/><polygon points="56,97 54,97 55,86 58,88" fill="#2e2670"/><polygon points="33.6,88.9 50,98.5 50,100 30,100 29,93" fill="#302868"/><polygon points="71,93 70,100 50,100 50,98.5 66.4,88.9" fill="#302868"/><polygon points="30.5,93 33,91 36,99.5 33,99.5" fill="#4a3cc0" opacity="0.8"/><polygon points="67,99.5 64,99.5 67,91 69.5,93" fill="#4a3cc0" opacity="0.8"/><polygon points="18.1,55.8 19.5,52.3 21,55.8" fill="#f0b8f4"/><polygon points="79,55.8 80.5,52.3 81.9,55.8" fill="#f0b8f4"/><polygon points="40.5,54.9 42,50.7 43.6,54.9" fill="#f0b8f4"/><polygon points="56.4,54.9 58,50.7 59.5,54.9" fill="#f0b8f4"/><polygon points="18.6,49.8 19.4,49.1 20.1,50.7" fill="#f0c8f4"/><polygon points="79.9,50.7 80.6,49.1 81.4,49.8" fill="#f0c8f4"/></g></g><ellipse cx="50" cy="50" rx="49.7" ry="49.7" fill="none" stroke="#7868e8" stroke-width="1" vector-effect="non-scaling-stroke" opacity="0.5"/></svg><svg x="679.8" y="1426.1" width="159" height="216.3" viewBox="0 0 100 100" preserveAspectRatio="none"><defs><clipPath id="gc2"><ellipse cx="50" cy="50" rx="50" ry="50"/></clipPath></defs><g clip-path="url(#gc2)"><rect x="0" y="0" width="100" height="100" fill="#2e2870"/><g transform="translate(-1 0)"><rect x="0" y="0" width="102" height="100" fill="#2e2870"/><polygon points="0,14 15.7,14 28.8,14.8 33.7,14.7 28.2,29.8 13,36.4 0,40" fill="#2c2670"/><polygon points="100,40 87,36.4 71.8,29.8 66.3,14.7 71.2,14.8 84.3,14 100,14" fill="#2c2670"/><polygon points="2,28 12,17 15,18 5,30" fill="#3a30a8" opacity="0.75"/><polygon points="95,30 85,18 88,17 98,28" fill="#3a30a8" opacity="0.75"/><polygon points="8,33 19,20 22,21 11,34" fill="#3a30a8" opacity="0.7"/><polygon points="89,34 78,21 81,20 92,33" fill="#3a30a8" opacity="0.7"/><polygon points="21,26 25,17 26.5,18 23,27" fill="#2a20c0" opacity="0.8"/><polygon points="77,27 73.5,18 75,17 79,26" fill="#2a20c0" opacity="0.8"/><polygon points="14,28 20,27 18,33 14,34" fill="#1c1748" opacity="0.6"/><polygon points="86,34 82,33 80,27 86,28" fill="#1c1748" opacity="0.6"/><polygon points="4,21 15.7,14 28.8,14.8 31.7,10.1 29.9,4.8 18,9" fill="#0a087c"/><polygon points="82,9 70.1,4.8 68.3,10.1 71.2,14.8 84.3,14 96,21" fill="#0a087c"/><polygon points="20.5,12.5 23.5,10.5 25.5,12 22.5,13.8" fill="#1818d0" opacity="0.6"/><polygon points="77.5,13.8 74.5,12 76.5,10.5 79.5,12.5" fill="#1818d0" opacity="0.6"/><polygon points="29.9,4.8 44.5,2.3 49,0 50,0 35.3,13.6 33.7,14.7 31.7,10.1" fill="#4a3cb0"/><polygon points="68.3,10.1 66.3,14.7 64.7,13.6 50,0 51,0 55.5,2.3 70.1,4.8" fill="#4a3cb0"/><polygon points="37,2 42,1.2 38.5,10.5 35.5,8.5" fill="#2a2458"/><polygon points="64.5,8.5 61.5,10.5 58,1.2 63,2" fill="#2a2458"/><polygon points="32,11.2 41,7.2 41.3,8.2 32.3,12.2" fill="#6a5cd0" opacity="0.8"/><polygon points="67.7,12.2 58.7,8.2 59,7.2 68,11.2" fill="#6a5cd0" opacity="0.8"/><polygon points="50,0.3 35.3,13.6 50,21" fill="#5a4cc0"/><polygon points="50,21 64.7,13.6 50,0.3" fill="#5a4cc0"/><polygon points="45.3,7 47,5.5 47.6,17 46,13" fill="#4a4090"/><polygon points="54,13 52.4,17 53,5.5 54.7,7" fill="#4a4090"/><polygon points="48,4 50,3 50,17 48,16" fill="#5c50b0"/><polygon points="52,16 50,17 50,3 52,4" fill="#5c50b0"/><polygon points="38.5,14 50,12 50,21" fill="#6254c0"/><polygon points="50,21 50,12 61.5,14" fill="#6254c0"/><polygon points="33.7,14.7 43,19 45,23 28.2,29.8" fill="#4e4478"/><polygon points="71.8,29.8 55,23 57,19 66.3,14.7" fill="#4e4478"/><polygon points="43,19 50,21 45,23" fill="#6a5cc8"/><polygon points="55,23 50,21 57,19" fill="#6a5cc8"/><polygon points="28.2,29.8 50,21 50,21.7 28.2,30.5" fill="#7a70d8"/><polygon points="71.8,30.5 50,21.7 50,21 71.8,29.8" fill="#7a70d8"/><polygon points="28.2,30.5 50,21.7 50,48 39.1,46.6 19.6,49.1 19.1,50 26.2,32" fill="#3a2ea2"/><polygon points="73.8,32 80.9,50 80.4,49.1 60.9,46.6 50,48 50,21.7 71.8,30.5" fill="#3a2ea2"/><polygon points="27.6,30.2 37.7,26.3 40.3,29.3 42.2,24.8 48.9,21.9 50,21.9 50,46 48.3,45.3 44.6,38.7 42,34.9 39.8,31.8 37.4,34.3 37.4,36.4 31.6,37.4 35,42.1 25,41.5 25,33" fill="#201a4e"/><polygon points="75,33 75,41.5 65,42.1 68.4,37.4 62.6,36.4 62.6,34.3 60.2,31.8 58,34.9 55.4,38.7 51.7,45.3 50,46 50,21.9 51.1,21.9 57.8,24.8 59.7,29.3 62.3,26.3 72.4,30.2" fill="#201a4e"/><polygon points="46.4,24.5 50,24.2 50,43.3 46.6,40" fill="#4434c0"/><polygon points="53.4,40 50,43.3 50,24.2 53.6,24.5" fill="#4434c0"/><polygon points="13,36.4 26.2,32 19.1,50" fill="#7868c0"/><polygon points="80.9,50 73.8,32 87,36.4" fill="#7868c0"/><polygon points="26.2,32 26.9,32.3 19.5,50 19.1,50" fill="#9484e4"/><polygon points="80.9,50 80.5,50 73.1,32.3 73.8,32" fill="#9484e4"/><polygon points="0,40 13,36.4 17,45.7 4.5,44.3 0,46" fill="#3a30a8"/><polygon points="100,46 95.5,44.3 83,45.7 87,36.4 100,40" fill="#3a30a8"/><polygon points="0.8,46.7 4.5,44.3 16.2,45.7 17,48.3 5.9,49.4" fill="#6a50f8"/><polygon points="94.1,49.4 83,48.3 83.8,45.7 95.5,44.3 99.2,46.7" fill="#6a50f8"/><polygon points="0.8,46.7 4.5,44.3 8.5,44.8 5,48.8" fill="#a890f0" opacity="0.75"/><polygon points="95,48.8 91.5,44.8 95.5,44.3 99.2,46.7" fill="#a890f0" opacity="0.75"/><polygon points="19.6,49.1 39.1,46.6 39.1,47.4 19.6,49.9" fill="#6a5ae8"/><polygon points="80.4,49.9 60.9,47.4 60.9,46.6 80.4,49.1" fill="#6a5ae8"/><polygon points="0,49.5 5.9,49.4 17,48.3 19.1,50 18,53.5 0,53.5" fill="#2a2058"/><polygon points="100,53.5 82,53.5 80.9,50 83,48.3 94.1,49.4 100,49.5" fill="#2a2058"/><polygon points="0,53.5 18,53.5 16.5,56.7 0,56.6" fill="#4234c0"/><polygon points="100,56.6 83.5,56.7 82,53.5 100,53.5" fill="#4234c0"/><polygon points="0,56.6 16.5,56.7 16.5,70 3.5,67.2 0,66" fill="#4a3cc8"/><polygon points="100,66 96.5,67.2 83.5,70 83.5,56.7 100,56.6" fill="#4a3cc8"/><polygon points="3.5,56.8 15.5,56.2 5.9,61.5" fill="#5a48f0"/><polygon points="94.1,61.5 84.5,56.2 96.5,56.8" fill="#5a48f0"/><polygon points="19.1,50 20.2,51.8 38.2,54.4 40,56 34.1,58 24.3,61.5 23,70 16.5,70 16.5,56.7" fill="#5040e0"/><polygon points="83.5,56.7 83.5,70 77,70 75.7,61.5 65.9,58 60,56 61.8,54.4 79.8,51.8 80.9,50" fill="#5040e0"/><polygon points="19.6,49.9 39.1,47.4 38.5,51 37.5,54.2 20.2,51.8" fill="#1c1650"/><polygon points="79.8,51.8 62.5,54.2 61.5,51 60.9,47.4 80.4,49.9" fill="#1c1650"/><polygon points="49,50.5 39.1,47.4 37.5,54.2 44,55.5" fill="#5a48f0"/><polygon points="56,55.5 62.5,54.2 60.9,47.4 51,50.5" fill="#5a48f0"/><polygon points="39.1,46.6 47,47.5 49,50.5 39.1,47.4" fill="#4a3cd0"/><polygon points="60.9,47.4 51,50.5 53,47.5 60.9,46.6" fill="#4a3cd0"/><polygon points="16.5,56.7 17.6,57.3 4.6,67.6 3.5,67.2" fill="#14104a"/><polygon points="96.5,67.2 95.4,67.6 82.4,57.3 83.5,56.7" fill="#14104a"/><polygon points="15,60 16,60.5 6,69 5,68.6" fill="#6050f0" opacity="0.8"/><polygon points="95,68.6 94,69 84,60.5 85,60" fill="#6050f0" opacity="0.8"/><polygon points="48.8,51.3 39.1,52.4 32.4,64.2 42.1,64.2 48.8,56.1" fill="#5a48f0"/><polygon points="51.2,56.1 57.9,64.2 67.6,64.2 60.9,52.4 51.2,51.3" fill="#5a48f0"/><polygon points="48.8,51.3 44,53 40,60 48.8,56.1" fill="#6450f4" opacity="0.6"/><polygon points="51.2,56.1 60,60 56,53 51.2,51.3" fill="#6450f4" opacity="0.6"/><polygon points="24.3,61.5 34.1,58 37.7,64.5 40,65 47,57 50,58 50,82 43.1,79.7 34.5,76.2 27.4,73.1 25.4,66.3" fill="#0c0858"/><polygon points="74.6,66.3 72.6,73.1 65.5,76.2 56.9,79.7 50,82 50,58 53,57 60,65 62.3,64.5 65.9,58 75.7,61.5" fill="#0c0858"/><polygon points="28,66 33,68 31,73" fill="#1a14a0" opacity="0.7"/><polygon points="69,73 67,68 72,66" fill="#1a14a0" opacity="0.7"/><polygon points="38,70 42,68 43,74" fill="#16129a" opacity="0.6"/><polygon points="57,74 58,68 62,70" fill="#16129a" opacity="0.6"/><polygon points="46.5,58 50,56.5 50,77 47,73" fill="#3a30b0"/><polygon points="53,73 50,77 50,56.5 53.5,58" fill="#3a30b0"/><polygon points="0,66 3.5,67.2 16.5,70 23,70 25.4,66.3 27.4,73.1 34.5,76.2 43.1,79.7 50,82 33.6,88.9 35,100 0,100" fill="#322a70"/><polygon points="100,100 65,100 66.4,88.9 50,82 56.9,79.7 65.5,76.2 72.6,73.1 74.6,66.3 77,70 83.5,70 96.5,67.2 100,66" fill="#322a70"/><polygon points="10,67 14,67 20,79 17,80" fill="#3a30a0" opacity="0.7"/><polygon points="83,80 80,79 86,67 90,67" fill="#3a30a0" opacity="0.7"/><polygon points="19,72 22,72 26,81 23,81" fill="#3a30a0" opacity="0.6"/><polygon points="77,81 74,81 78,72 81,72" fill="#3a30a0" opacity="0.6"/><polygon points="5,70 7,69.5 13,84 11,84.5" fill="#4236b0" opacity="0.55"/><polygon points="89,84.5 87,84 93,69.5 95,70" fill="#4236b0" opacity="0.55"/><polygon points="13,71 15,71 19,88 17,88" fill="#231d55" opacity="0.7"/><polygon points="83,88 81,88 85,71 87,71" fill="#231d55" opacity="0.7"/><polygon points="22,76 24,75.5 27,90 25,90.5" fill="#4438b8" opacity="0.5"/><polygon points="75,90.5 73,90 76,75.5 78,76" fill="#4438b8" opacity="0.5"/><polygon points="15,86 24,88 22,94 16,91" fill="#3a32a4" opacity="0.6"/><polygon points="84,91 78,94 76,88 85,86" fill="#3a32a4" opacity="0.6"/><polygon points="27,79 31,80 32,88 29,88" fill="#241e58" opacity="0.6"/><polygon points="71,88 68,88 69,80 73,79" fill="#241e58" opacity="0.6"/><polygon points="30,78 31.5,78 31,84" fill="#5a4ce0" opacity="0.7"/><polygon points="69,84 68.5,78 70,78" fill="#5a4ce0" opacity="0.7"/><polygon points="26,88 29,87 30,90" fill="#3020c0" opacity="0.8"/><polygon points="70,90 71,87 74,88" fill="#3020c0" opacity="0.8"/><polygon points="50,82.8 33.6,88.9 50,98.5" fill="#4a3cc0"/><polygon points="50,98.5 66.4,88.9 50,82.8" fill="#4a3cc0"/><polygon points="42,88 45,86 46,97 44,97" fill="#2e2670"/><polygon points="56,97 54,97 55,86 58,88" fill="#2e2670"/><polygon points="33.6,88.9 50,98.5 50,100 30,100 29,93" fill="#302868"/><polygon points="71,93 70,100 50,100 50,98.5 66.4,88.9" fill="#302868"/><polygon points="30.5,93 33,91 36,99.5 33,99.5" fill="#4a3cc0" opacity="0.8"/><polygon points="67,99.5 64,99.5 67,91 69.5,93" fill="#4a3cc0" opacity="0.8"/><polygon points="18.1,55.8 19.5,52.3 21,55.8" fill="#f0b8f4"/><polygon points="79,55.8 80.5,52.3 81.9,55.8" fill="#f0b8f4"/><polygon points="40.5,54.9 42,50.7 43.6,54.9" fill="#f0b8f4"/><polygon points="56.4,54.9 58,50.7 59.5,54.9" fill="#f0b8f4"/><polygon points="18.6,49.8 19.4,49.1 20.1,50.7" fill="#f0c8f4"/><polygon points="79.9,50.7 80.6,49.1 81.4,49.8" fill="#f0c8f4"/></g></g><ellipse cx="50" cy="50" rx="49.7" ry="49.7" fill="none" stroke="#7868e8" stroke-width="1" vector-effect="non-scaling-stroke" opacity="0.5"/></svg><svg x="914.1" y="1371" width="200.2" height="270" viewBox="0 0 100 100" preserveAspectRatio="none"><defs><clipPath id="gc3"><ellipse cx="50" cy="50" rx="50" ry="50"/></clipPath></defs><g clip-path="url(#gc3)"><rect x="0" y="0" width="100" height="100" fill="#2e2870"/><g transform="translate(-1 0)"><rect x="0" y="0" width="102" height="100" fill="#2e2870"/><polygon points="0,14 15.7,14 28.8,14.8 33.7,14.7 28.2,29.8 13,36.4 0,40" fill="#2c2670"/><polygon points="100,40 87,36.4 71.8,29.8 66.3,14.7 71.2,14.8 84.3,14 100,14" fill="#2c2670"/><polygon points="2,28 12,17 15,18 5,30" fill="#3a30a8" opacity="0.75"/><polygon points="95,30 85,18 88,17 98,28" fill="#3a30a8" opacity="0.75"/><polygon points="8,33 19,20 22,21 11,34" fill="#3a30a8" opacity="0.7"/><polygon points="89,34 78,21 81,20 92,33" fill="#3a30a8" opacity="0.7"/><polygon points="21,26 25,17 26.5,18 23,27" fill="#2a20c0" opacity="0.8"/><polygon points="77,27 73.5,18 75,17 79,26" fill="#2a20c0" opacity="0.8"/><polygon points="14,28 20,27 18,33 14,34" fill="#1c1748" opacity="0.6"/><polygon points="86,34 82,33 80,27 86,28" fill="#1c1748" opacity="0.6"/><polygon points="4,21 15.7,14 28.8,14.8 31.7,10.1 29.9,4.8 18,9" fill="#0a087c"/><polygon points="82,9 70.1,4.8 68.3,10.1 71.2,14.8 84.3,14 96,21" fill="#0a087c"/><polygon points="20.5,12.5 23.5,10.5 25.5,12 22.5,13.8" fill="#1818d0" opacity="0.6"/><polygon points="77.5,13.8 74.5,12 76.5,10.5 79.5,12.5" fill="#1818d0" opacity="0.6"/><polygon points="29.9,4.8 44.5,2.3 49,0 50,0 35.3,13.6 33.7,14.7 31.7,10.1" fill="#4a3cb0"/><polygon points="68.3,10.1 66.3,14.7 64.7,13.6 50,0 51,0 55.5,2.3 70.1,4.8" fill="#4a3cb0"/><polygon points="37,2 42,1.2 38.5,10.5 35.5,8.5" fill="#2a2458"/><polygon points="64.5,8.5 61.5,10.5 58,1.2 63,2" fill="#2a2458"/><polygon points="32,11.2 41,7.2 41.3,8.2 32.3,12.2" fill="#6a5cd0" opacity="0.8"/><polygon points="67.7,12.2 58.7,8.2 59,7.2 68,11.2" fill="#6a5cd0" opacity="0.8"/><polygon points="50,0.3 35.3,13.6 50,21" fill="#5a4cc0"/><polygon points="50,21 64.7,13.6 50,0.3" fill="#5a4cc0"/><polygon points="45.3,7 47,5.5 47.6,17 46,13" fill="#4a4090"/><polygon points="54,13 52.4,17 53,5.5 54.7,7" fill="#4a4090"/><polygon points="48,4 50,3 50,17 48,16" fill="#5c50b0"/><polygon points="52,16 50,17 50,3 52,4" fill="#5c50b0"/><polygon points="38.5,14 50,12 50,21" fill="#6254c0"/><polygon points="50,21 50,12 61.5,14" fill="#6254c0"/><polygon points="33.7,14.7 43,19 45,23 28.2,29.8" fill="#4e4478"/><polygon points="71.8,29.8 55,23 57,19 66.3,14.7" fill="#4e4478"/><polygon points="43,19 50,21 45,23" fill="#6a5cc8"/><polygon points="55,23 50,21 57,19" fill="#6a5cc8"/><polygon points="28.2,29.8 50,21 50,21.7 28.2,30.5" fill="#7a70d8"/><polygon points="71.8,30.5 50,21.7 50,21 71.8,29.8" fill="#7a70d8"/><polygon points="28.2,30.5 50,21.7 50,48 39.1,46.6 19.6,49.1 19.1,50 26.2,32" fill="#3a2ea2"/><polygon points="73.8,32 80.9,50 80.4,49.1 60.9,46.6 50,48 50,21.7 71.8,30.5" fill="#3a2ea2"/><polygon points="27.6,30.2 37.7,26.3 40.3,29.3 42.2,24.8 48.9,21.9 50,21.9 50,46 48.3,45.3 44.6,38.7 42,34.9 39.8,31.8 37.4,34.3 37.4,36.4 31.6,37.4 35,42.1 25,41.5 25,33" fill="#201a4e"/><polygon points="75,33 75,41.5 65,42.1 68.4,37.4 62.6,36.4 62.6,34.3 60.2,31.8 58,34.9 55.4,38.7 51.7,45.3 50,46 50,21.9 51.1,21.9 57.8,24.8 59.7,29.3 62.3,26.3 72.4,30.2" fill="#201a4e"/><polygon points="46.4,24.5 50,24.2 50,43.3 46.6,40" fill="#4434c0"/><polygon points="53.4,40 50,43.3 50,24.2 53.6,24.5" fill="#4434c0"/><polygon points="13,36.4 26.2,32 19.1,50" fill="#7868c0"/><polygon points="80.9,50 73.8,32 87,36.4" fill="#7868c0"/><polygon points="26.2,32 26.9,32.3 19.5,50 19.1,50" fill="#9484e4"/><polygon points="80.9,50 80.5,50 73.1,32.3 73.8,32" fill="#9484e4"/><polygon points="0,40 13,36.4 17,45.7 4.5,44.3 0,46" fill="#3a30a8"/><polygon points="100,46 95.5,44.3 83,45.7 87,36.4 100,40" fill="#3a30a8"/><polygon points="0.8,46.7 4.5,44.3 16.2,45.7 17,48.3 5.9,49.4" fill="#6a50f8"/><polygon points="94.1,49.4 83,48.3 83.8,45.7 95.5,44.3 99.2,46.7" fill="#6a50f8"/><polygon points="0.8,46.7 4.5,44.3 8.5,44.8 5,48.8" fill="#a890f0" opacity="0.75"/><polygon points="95,48.8 91.5,44.8 95.5,44.3 99.2,46.7" fill="#a890f0" opacity="0.75"/><polygon points="19.6,49.1 39.1,46.6 39.1,47.4 19.6,49.9" fill="#6a5ae8"/><polygon points="80.4,49.9 60.9,47.4 60.9,46.6 80.4,49.1" fill="#6a5ae8"/><polygon points="0,49.5 5.9,49.4 17,48.3 19.1,50 18,53.5 0,53.5" fill="#2a2058"/><polygon points="100,53.5 82,53.5 80.9,50 83,48.3 94.1,49.4 100,49.5" fill="#2a2058"/><polygon points="0,53.5 18,53.5 16.5,56.7 0,56.6" fill="#4234c0"/><polygon points="100,56.6 83.5,56.7 82,53.5 100,53.5" fill="#4234c0"/><polygon points="0,56.6 16.5,56.7 16.5,70 3.5,67.2 0,66" fill="#4a3cc8"/><polygon points="100,66 96.5,67.2 83.5,70 83.5,56.7 100,56.6" fill="#4a3cc8"/><polygon points="3.5,56.8 15.5,56.2 5.9,61.5" fill="#5a48f0"/><polygon points="94.1,61.5 84.5,56.2 96.5,56.8" fill="#5a48f0"/><polygon points="19.1,50 20.2,51.8 38.2,54.4 40,56 34.1,58 24.3,61.5 23,70 16.5,70 16.5,56.7" fill="#5040e0"/><polygon points="83.5,56.7 83.5,70 77,70 75.7,61.5 65.9,58 60,56 61.8,54.4 79.8,51.8 80.9,50" fill="#5040e0"/><polygon points="19.6,49.9 39.1,47.4 38.5,51 37.5,54.2 20.2,51.8" fill="#1c1650"/><polygon points="79.8,51.8 62.5,54.2 61.5,51 60.9,47.4 80.4,49.9" fill="#1c1650"/><polygon points="49,50.5 39.1,47.4 37.5,54.2 44,55.5" fill="#5a48f0"/><polygon points="56,55.5 62.5,54.2 60.9,47.4 51,50.5" fill="#5a48f0"/><polygon points="39.1,46.6 47,47.5 49,50.5 39.1,47.4" fill="#4a3cd0"/><polygon points="60.9,47.4 51,50.5 53,47.5 60.9,46.6" fill="#4a3cd0"/><polygon points="16.5,56.7 17.6,57.3 4.6,67.6 3.5,67.2" fill="#14104a"/><polygon points="96.5,67.2 95.4,67.6 82.4,57.3 83.5,56.7" fill="#14104a"/><polygon points="15,60 16,60.5 6,69 5,68.6" fill="#6050f0" opacity="0.8"/><polygon points="95,68.6 94,69 84,60.5 85,60" fill="#6050f0" opacity="0.8"/><polygon points="48.8,51.3 39.1,52.4 32.4,64.2 42.1,64.2 48.8,56.1" fill="#5a48f0"/><polygon points="51.2,56.1 57.9,64.2 67.6,64.2 60.9,52.4 51.2,51.3" fill="#5a48f0"/><polygon points="48.8,51.3 44,53 40,60 48.8,56.1" fill="#6450f4" opacity="0.6"/><polygon points="51.2,56.1 60,60 56,53 51.2,51.3" fill="#6450f4" opacity="0.6"/><polygon points="24.3,61.5 34.1,58 37.7,64.5 40,65 47,57 50,58 50,82 43.1,79.7 34.5,76.2 27.4,73.1 25.4,66.3" fill="#0c0858"/><polygon points="74.6,66.3 72.6,73.1 65.5,76.2 56.9,79.7 50,82 50,58 53,57 60,65 62.3,64.5 65.9,58 75.7,61.5" fill="#0c0858"/><polygon points="28,66 33,68 31,73" fill="#1a14a0" opacity="0.7"/><polygon points="69,73 67,68 72,66" fill="#1a14a0" opacity="0.7"/><polygon points="38,70 42,68 43,74" fill="#16129a" opacity="0.6"/><polygon points="57,74 58,68 62,70" fill="#16129a" opacity="0.6"/><polygon points="46.5,58 50,56.5 50,77 47,73" fill="#3a30b0"/><polygon points="53,73 50,77 50,56.5 53.5,58" fill="#3a30b0"/><polygon points="0,66 3.5,67.2 16.5,70 23,70 25.4,66.3 27.4,73.1 34.5,76.2 43.1,79.7 50,82 33.6,88.9 35,100 0,100" fill="#322a70"/><polygon points="100,100 65,100 66.4,88.9 50,82 56.9,79.7 65.5,76.2 72.6,73.1 74.6,66.3 77,70 83.5,70 96.5,67.2 100,66" fill="#322a70"/><polygon points="10,67 14,67 20,79 17,80" fill="#3a30a0" opacity="0.7"/><polygon points="83,80 80,79 86,67 90,67" fill="#3a30a0" opacity="0.7"/><polygon points="19,72 22,72 26,81 23,81" fill="#3a30a0" opacity="0.6"/><polygon points="77,81 74,81 78,72 81,72" fill="#3a30a0" opacity="0.6"/><polygon points="5,70 7,69.5 13,84 11,84.5" fill="#4236b0" opacity="0.55"/><polygon points="89,84.5 87,84 93,69.5 95,70" fill="#4236b0" opacity="0.55"/><polygon points="13,71 15,71 19,88 17,88" fill="#231d55" opacity="0.7"/><polygon points="83,88 81,88 85,71 87,71" fill="#231d55" opacity="0.7"/><polygon points="22,76 24,75.5 27,90 25,90.5" fill="#4438b8" opacity="0.5"/><polygon points="75,90.5 73,90 76,75.5 78,76" fill="#4438b8" opacity="0.5"/><polygon points="15,86 24,88 22,94 16,91" fill="#3a32a4" opacity="0.6"/><polygon points="84,91 78,94 76,88 85,86" fill="#3a32a4" opacity="0.6"/><polygon points="27,79 31,80 32,88 29,88" fill="#241e58" opacity="0.6"/><polygon points="71,88 68,88 69,80 73,79" fill="#241e58" opacity="0.6"/><polygon points="30,78 31.5,78 31,84" fill="#5a4ce0" opacity="0.7"/><polygon points="69,84 68.5,78 70,78" fill="#5a4ce0" opacity="0.7"/><polygon points="26,88 29,87 30,90" fill="#3020c0" opacity="0.8"/><polygon points="70,90 71,87 74,88" fill="#3020c0" opacity="0.8"/><polygon points="50,82.8 33.6,88.9 50,98.5" fill="#4a3cc0"/><polygon points="50,98.5 66.4,88.9 50,82.8" fill="#4a3cc0"/><polygon points="42,88 45,86 46,97 44,97" fill="#2e2670"/><polygon points="56,97 54,97 55,86 58,88" fill="#2e2670"/><polygon points="33.6,88.9 50,98.5 50,100 30,100 29,93" fill="#302868"/><polygon points="71,93 70,100 50,100 50,98.5 66.4,88.9" fill="#302868"/><polygon points="30.5,93 33,91 36,99.5 33,99.5" fill="#4a3cc0" opacity="0.8"/><polygon points="67,99.5 64,99.5 67,91 69.5,93" fill="#4a3cc0" opacity="0.8"/><polygon points="18.1,55.8 19.5,52.3 21,55.8" fill="#f0b8f4"/><polygon points="79,55.8 80.5,52.3 81.9,55.8" fill="#f0b8f4"/><polygon points="40.5,54.9 42,50.7 43.6,54.9" fill="#f0b8f4"/><polygon points="56.4,54.9 58,50.7 59.5,54.9" fill="#f0b8f4"/><polygon points="18.6,49.8 19.4,49.1 20.1,50.7" fill="#f0c8f4"/><polygon points="79.9,50.7 80.6,49.1 81.4,49.8" fill="#f0c8f4"/></g></g><ellipse cx="50" cy="50" rx="49.7" ry="49.7" fill="none" stroke="#7868e8" stroke-width="1" vector-effect="non-scaling-stroke" opacity="0.5"/></svg><svg x="1191.7" y="1295.6" width="253.6" height="353.4" viewBox="0 0 100 100" preserveAspectRatio="none"><defs><clipPath id="gc4"><ellipse cx="50" cy="50" rx="50" ry="50"/></clipPath></defs><g clip-path="url(#gc4)"><rect x="0" y="0" width="100" height="100" fill="#2e2870"/><g transform="translate(-1 0)"><rect x="0" y="0" width="102" height="100" fill="#2e2870"/><polygon points="0,14 15.7,14 28.8,14.8 33.7,14.7 28.2,29.8 13,36.4 0,40" fill="#2c2670"/><polygon points="100,40 87,36.4 71.8,29.8 66.3,14.7 71.2,14.8 84.3,14 100,14" fill="#2c2670"/><polygon points="2,28 12,17 15,18 5,30" fill="#3a30a8" opacity="0.75"/><polygon points="95,30 85,18 88,17 98,28" fill="#3a30a8" opacity="0.75"/><polygon points="8,33 19,20 22,21 11,34" fill="#3a30a8" opacity="0.7"/><polygon points="89,34 78,21 81,20 92,33" fill="#3a30a8" opacity="0.7"/><polygon points="21,26 25,17 26.5,18 23,27" fill="#2a20c0" opacity="0.8"/><polygon points="77,27 73.5,18 75,17 79,26" fill="#2a20c0" opacity="0.8"/><polygon points="14,28 20,27 18,33 14,34" fill="#1c1748" opacity="0.6"/><polygon points="86,34 82,33 80,27 86,28" fill="#1c1748" opacity="0.6"/><polygon points="4,21 15.7,14 28.8,14.8 31.7,10.1 29.9,4.8 18,9" fill="#0a087c"/><polygon points="82,9 70.1,4.8 68.3,10.1 71.2,14.8 84.3,14 96,21" fill="#0a087c"/><polygon points="20.5,12.5 23.5,10.5 25.5,12 22.5,13.8" fill="#1818d0" opacity="0.6"/><polygon points="77.5,13.8 74.5,12 76.5,10.5 79.5,12.5" fill="#1818d0" opacity="0.6"/><polygon points="29.9,4.8 44.5,2.3 49,0 50,0 35.3,13.6 33.7,14.7 31.7,10.1" fill="#4a3cb0"/><polygon points="68.3,10.1 66.3,14.7 64.7,13.6 50,0 51,0 55.5,2.3 70.1,4.8" fill="#4a3cb0"/><polygon points="37,2 42,1.2 38.5,10.5 35.5,8.5" fill="#2a2458"/><polygon points="64.5,8.5 61.5,10.5 58,1.2 63,2" fill="#2a2458"/><polygon points="32,11.2 41,7.2 41.3,8.2 32.3,12.2" fill="#6a5cd0" opacity="0.8"/><polygon points="67.7,12.2 58.7,8.2 59,7.2 68,11.2" fill="#6a5cd0" opacity="0.8"/><polygon points="50,0.3 35.3,13.6 50,21" fill="#5a4cc0"/><polygon points="50,21 64.7,13.6 50,0.3" fill="#5a4cc0"/><polygon points="45.3,7 47,5.5 47.6,17 46,13" fill="#4a4090"/><polygon points="54,13 52.4,17 53,5.5 54.7,7" fill="#4a4090"/><polygon points="48,4 50,3 50,17 48,16" fill="#5c50b0"/><polygon points="52,16 50,17 50,3 52,4" fill="#5c50b0"/><polygon points="38.5,14 50,12 50,21" fill="#6254c0"/><polygon points="50,21 50,12 61.5,14" fill="#6254c0"/><polygon points="33.7,14.7 43,19 45,23 28.2,29.8" fill="#4e4478"/><polygon points="71.8,29.8 55,23 57,19 66.3,14.7" fill="#4e4478"/><polygon points="43,19 50,21 45,23" fill="#6a5cc8"/><polygon points="55,23 50,21 57,19" fill="#6a5cc8"/><polygon points="28.2,29.8 50,21 50,21.7 28.2,30.5" fill="#7a70d8"/><polygon points="71.8,30.5 50,21.7 50,21 71.8,29.8" fill="#7a70d8"/><polygon points="28.2,30.5 50,21.7 50,48 39.1,46.6 19.6,49.1 19.1,50 26.2,32" fill="#3a2ea2"/><polygon points="73.8,32 80.9,50 80.4,49.1 60.9,46.6 50,48 50,21.7 71.8,30.5" fill="#3a2ea2"/><polygon points="27.6,30.2 37.7,26.3 40.3,29.3 42.2,24.8 48.9,21.9 50,21.9 50,46 48.3,45.3 44.6,38.7 42,34.9 39.8,31.8 37.4,34.3 37.4,36.4 31.6,37.4 35,42.1 25,41.5 25,33" fill="#201a4e"/><polygon points="75,33 75,41.5 65,42.1 68.4,37.4 62.6,36.4 62.6,34.3 60.2,31.8 58,34.9 55.4,38.7 51.7,45.3 50,46 50,21.9 51.1,21.9 57.8,24.8 59.7,29.3 62.3,26.3 72.4,30.2" fill="#201a4e"/><polygon points="46.4,24.5 50,24.2 50,43.3 46.6,40" fill="#4434c0"/><polygon points="53.4,40 50,43.3 50,24.2 53.6,24.5" fill="#4434c0"/><polygon points="13,36.4 26.2,32 19.1,50" fill="#7868c0"/><polygon points="80.9,50 73.8,32 87,36.4" fill="#7868c0"/><polygon points="26.2,32 26.9,32.3 19.5,50 19.1,50" fill="#9484e4"/><polygon points="80.9,50 80.5,50 73.1,32.3 73.8,32" fill="#9484e4"/><polygon points="0,40 13,36.4 17,45.7 4.5,44.3 0,46" fill="#3a30a8"/><polygon points="100,46 95.5,44.3 83,45.7 87,36.4 100,40" fill="#3a30a8"/><polygon points="0.8,46.7 4.5,44.3 16.2,45.7 17,48.3 5.9,49.4" fill="#6a50f8"/><polygon points="94.1,49.4 83,48.3 83.8,45.7 95.5,44.3 99.2,46.7" fill="#6a50f8"/><polygon points="0.8,46.7 4.5,44.3 8.5,44.8 5,48.8" fill="#a890f0" opacity="0.75"/><polygon points="95,48.8 91.5,44.8 95.5,44.3 99.2,46.7" fill="#a890f0" opacity="0.75"/><polygon points="19.6,49.1 39.1,46.6 39.1,47.4 19.6,49.9" fill="#6a5ae8"/><polygon points="80.4,49.9 60.9,47.4 60.9,46.6 80.4,49.1" fill="#6a5ae8"/><polygon points="0,49.5 5.9,49.4 17,48.3 19.1,50 18,53.5 0,53.5" fill="#2a2058"/><polygon points="100,53.5 82,53.5 80.9,50 83,48.3 94.1,49.4 100,49.5" fill="#2a2058"/><polygon points="0,53.5 18,53.5 16.5,56.7 0,56.6" fill="#4234c0"/><polygon points="100,56.6 83.5,56.7 82,53.5 100,53.5" fill="#4234c0"/><polygon points="0,56.6 16.5,56.7 16.5,70 3.5,67.2 0,66" fill="#4a3cc8"/><polygon points="100,66 96.5,67.2 83.5,70 83.5,56.7 100,56.6" fill="#4a3cc8"/><polygon points="3.5,56.8 15.5,56.2 5.9,61.5" fill="#5a48f0"/><polygon points="94.1,61.5 84.5,56.2 96.5,56.8" fill="#5a48f0"/><polygon points="19.1,50 20.2,51.8 38.2,54.4 40,56 34.1,58 24.3,61.5 23,70 16.5,70 16.5,56.7" fill="#5040e0"/><polygon points="83.5,56.7 83.5,70 77,70 75.7,61.5 65.9,58 60,56 61.8,54.4 79.8,51.8 80.9,50" fill="#5040e0"/><polygon points="19.6,49.9 39.1,47.4 38.5,51 37.5,54.2 20.2,51.8" fill="#1c1650"/><polygon points="79.8,51.8 62.5,54.2 61.5,51 60.9,47.4 80.4,49.9" fill="#1c1650"/><polygon points="49,50.5 39.1,47.4 37.5,54.2 44,55.5" fill="#5a48f0"/><polygon points="56,55.5 62.5,54.2 60.9,47.4 51,50.5" fill="#5a48f0"/><polygon points="39.1,46.6 47,47.5 49,50.5 39.1,47.4" fill="#4a3cd0"/><polygon points="60.9,47.4 51,50.5 53,47.5 60.9,46.6" fill="#4a3cd0"/><polygon points="16.5,56.7 17.6,57.3 4.6,67.6 3.5,67.2" fill="#14104a"/><polygon points="96.5,67.2 95.4,67.6 82.4,57.3 83.5,56.7" fill="#14104a"/><polygon points="15,60 16,60.5 6,69 5,68.6" fill="#6050f0" opacity="0.8"/><polygon points="95,68.6 94,69 84,60.5 85,60" fill="#6050f0" opacity="0.8"/><polygon points="48.8,51.3 39.1,52.4 32.4,64.2 42.1,64.2 48.8,56.1" fill="#5a48f0"/><polygon points="51.2,56.1 57.9,64.2 67.6,64.2 60.9,52.4 51.2,51.3" fill="#5a48f0"/><polygon points="48.8,51.3 44,53 40,60 48.8,56.1" fill="#6450f4" opacity="0.6"/><polygon points="51.2,56.1 60,60 56,53 51.2,51.3" fill="#6450f4" opacity="0.6"/><polygon points="24.3,61.5 34.1,58 37.7,64.5 40,65 47,57 50,58 50,82 43.1,79.7 34.5,76.2 27.4,73.1 25.4,66.3" fill="#0c0858"/><polygon points="74.6,66.3 72.6,73.1 65.5,76.2 56.9,79.7 50,82 50,58 53,57 60,65 62.3,64.5 65.9,58 75.7,61.5" fill="#0c0858"/><polygon points="28,66 33,68 31,73" fill="#1a14a0" opacity="0.7"/><polygon points="69,73 67,68 72,66" fill="#1a14a0" opacity="0.7"/><polygon points="38,70 42,68 43,74" fill="#16129a" opacity="0.6"/><polygon points="57,74 58,68 62,70" fill="#16129a" opacity="0.6"/><polygon points="46.5,58 50,56.5 50,77 47,73" fill="#3a30b0"/><polygon points="53,73 50,77 50,56.5 53.5,58" fill="#3a30b0"/><polygon points="0,66 3.5,67.2 16.5,70 23,70 25.4,66.3 27.4,73.1 34.5,76.2 43.1,79.7 50,82 33.6,88.9 35,100 0,100" fill="#322a70"/><polygon points="100,100 65,100 66.4,88.9 50,82 56.9,79.7 65.5,76.2 72.6,73.1 74.6,66.3 77,70 83.5,70 96.5,67.2 100,66" fill="#322a70"/><polygon points="10,67 14,67 20,79 17,80" fill="#3a30a0" opacity="0.7"/><polygon points="83,80 80,79 86,67 90,67" fill="#3a30a0" opacity="0.7"/><polygon points="19,72 22,72 26,81 23,81" fill="#3a30a0" opacity="0.6"/><polygon points="77,81 74,81 78,72 81,72" fill="#3a30a0" opacity="0.6"/><polygon points="5,70 7,69.5 13,84 11,84.5" fill="#4236b0" opacity="0.55"/><polygon points="89,84.5 87,84 93,69.5 95,70" fill="#4236b0" opacity="0.55"/><polygon points="13,71 15,71 19,88 17,88" fill="#231d55" opacity="0.7"/><polygon points="83,88 81,88 85,71 87,71" fill="#231d55" opacity="0.7"/><polygon points="22,76 24,75.5 27,90 25,90.5" fill="#4438b8" opacity="0.5"/><polygon points="75,90.5 73,90 76,75.5 78,76" fill="#4438b8" opacity="0.5"/><polygon points="15,86 24,88 22,94 16,91" fill="#3a32a4" opacity="0.6"/><polygon points="84,91 78,94 76,88 85,86" fill="#3a32a4" opacity="0.6"/><polygon points="27,79 31,80 32,88 29,88" fill="#241e58" opacity="0.6"/><polygon points="71,88 68,88 69,80 73,79" fill="#241e58" opacity="0.6"/><polygon points="30,78 31.5,78 31,84" fill="#5a4ce0" opacity="0.7"/><polygon points="69,84 68.5,78 70,78" fill="#5a4ce0" opacity="0.7"/><polygon points="26,88 29,87 30,90" fill="#3020c0" opacity="0.8"/><polygon points="70,90 71,87 74,88" fill="#3020c0" opacity="0.8"/><polygon points="50,82.8 33.6,88.9 50,98.5" fill="#4a3cc0"/><polygon points="50,98.5 66.4,88.9 50,82.8" fill="#4a3cc0"/><polygon points="42,88 45,86 46,97 44,97" fill="#2e2670"/><polygon points="56,97 54,97 55,86 58,88" fill="#2e2670"/><polygon points="33.6,88.9 50,98.5 50,100 30,100 29,93" fill="#302868"/><polygon points="71,93 70,100 50,100 50,98.5 66.4,88.9" fill="#302868"/><polygon points="30.5,93 33,91 36,99.5 33,99.5" fill="#4a3cc0" opacity="0.8"/><polygon points="67,99.5 64,99.5 67,91 69.5,93" fill="#4a3cc0" opacity="0.8"/><polygon points="18.1,55.8 19.5,52.3 21,55.8" fill="#f0b8f4"/><polygon points="79,55.8 80.5,52.3 81.9,55.8" fill="#f0b8f4"/><polygon points="40.5,54.9 42,50.7 43.6,54.9" fill="#f0b8f4"/><polygon points="56.4,54.9 58,50.7 59.5,54.9" fill="#f0b8f4"/><polygon points="18.6,49.8 19.4,49.1 20.1,50.7" fill="#f0c8f4"/><polygon points="79.9,50.7 80.6,49.1 81.4,49.8" fill="#f0c8f4"/></g></g><ellipse cx="50" cy="50" rx="49.7" ry="49.7" fill="none" stroke="#7868e8" stroke-width="1" vector-effect="non-scaling-stroke" opacity="0.5"/></svg></g><text transform="translate(325.27 1503.70) scale(1.1079 1)" x="0" y="0" font-size="24" font-family="'Liberation Sans', Arial, sans-serif" stroke="#000" stroke-width="0.6" fill="#000">5x3 mm</text><text transform="translate(496.66 1457.70) scale(1.1151 1)" x="0" y="0" font-size="24" font-family="'Liberation Sans', Arial, sans-serif" stroke="#000" stroke-width="0.6" fill="#000">7x5 mm</text><text transform="translate(710.16 1413.70) scale(1.1317 1)" x="0" y="0" font-size="24" font-family="'Liberation Sans', Arial, sans-serif" stroke="#000" stroke-width="0.6" fill="#000">8x6 mm</text><text transform="translate(957.22 1357.40) scale(1.1013 1)" x="0" y="0" font-size="24" font-family="'Liberation Sans', Arial, sans-serif" stroke="#000" stroke-width="0.6" fill="#000">10x8 mm</text><text transform="translate(1256.52 1274.60) scale(1.0345 1)" x="0" y="0" font-size="24" font-family="'Liberation Sans', Arial, sans-serif" stroke="#000" stroke-width="0.6" fill="#000">12x10 mm</text><defs><radialGradient id="shad" cx="0.5" cy="0.5" r="0.5"><stop offset="0.8" stop-color="#000" stop-opacity="0.28"/><stop offset="1" stop-color="#000" stop-opacity="0"/></radialGradient><radialGradient id="disc" cx="0.45" cy="0.42" r="0.6"><stop offset="0" stop-color="#cf585a"/><stop offset="0.75" stop-color="#cf5a5c"/><stop offset="0.95" stop-color="#c75656"/><stop offset="1" stop-color="#c05050"/></radialGradient><linearGradient id="ers" x1="0" y1="0" x2="0" y2="1"><stop offset="0" stop-color="#c4565a"/><stop offset="0.15" stop-color="#d05c5f"/><stop offset="0.6" stop-color="#dc6466"/><stop offset="0.9" stop-color="#e26b6c"/><stop offset="1" stop-color="#cc5c5f"/></linearGradient><linearGradient id="fer" x1="0" y1="0" x2="0" y2="1"><stop offset="0" stop-color="#e4c0a2"/><stop offset="0.1" stop-color="#dcb090"/><stop offset="0.3" stop-color="#d6a686"/><stop offset="0.345" stop-color="#8a5a3c"/><stop offset="0.39" stop-color="#4a2a1a"/><stop offset="0.48" stop-color="#4c2c1c"/><stop offset="0.52" stop-color="#c89c80"/><stop offset="0.56" stop-color="#fff4ea"/><stop offset="0.66" stop-color="#fffaf4"/><stop offset="0.73" stop-color="#f0d0b2"/><stop offset="0.86" stop-color="#e4bc98"/><stop offset="1" stop-color="#dab08c"/></linearGradient><linearGradient id="rdg" x1="0" y1="0" x2="0" y2="1"><stop offset="0" stop-color="#b07850" stop-opacity="0.15"/><stop offset="0.3" stop-color="#9a6240" stop-opacity="0.5"/><stop offset="0.55" stop-color="#8a5030" stop-opacity="0.75"/><stop offset="0.8" stop-color="#a06a44" stop-opacity="0.45"/><stop offset="1" stop-color="#b07850" stop-opacity="0.15"/></linearGradient><linearGradient id="body" x1="0" y1="0" x2="0" y2="1"><stop offset="0" stop-color="#e6782c"/><stop offset="0.17" stop-color="#ea7a1e"/><stop offset="0.21" stop-color="#f38612"/><stop offset="0.3" stop-color="#fb910e"/><stop offset="0.68" stop-color="#fd9a0a"/><stop offset="0.69" stop-color="#f8dcc4"/><stop offset="0.75" stop-color="#f8dcc4"/><stop offset="0.76" stop-color="#fcae1e"/><stop offset="1" stop-color="#fbb838"/></linearGradient></defs><circle cx="1626" cy="1565" r="84" fill="url(#shad)"/><circle cx="1619.5" cy="1557.1" r="79.3" fill="url(#disc)"/><line x1="1620" y1="1474.5" x2="1862" y2="1474.5" stroke="#000" stroke-width="4.8" stroke-dasharray="20 10"/><line x1="1619" y1="1638.5" x2="1861" y2="1638.5" stroke="#000" stroke-width="4.8" stroke-dasharray="20 10"/><rect x="1762.5" y="1275.5" width="260" height="107.4" fill="url(#body)"/><path d="M1632.6 1275 H1587 Q1577 1275 1577 1285 V1376 Q1577 1382.4 1583.4 1382.4 H1632.6 Z" fill="url(#ers)"/><rect x="1632.5" y="1275.2" width="130.2" height="107.8" fill="url(#fer)"/><rect x="1652.5" y="1277" width="3" height="104" fill="url(#rdg)"/><rect x="1657" y="1277" width="2.5" height="104" fill="url(#rdg)"/><rect x="1667" y="1277" width="3" height="104" fill="url(#rdg)"/><rect x="1676.5" y="1277" width="3.5" height="104" fill="url(#rdg)"/><rect x="1716" y="1277" width="3" height="104" fill="url(#rdg)"/><rect x="1725" y="1277" width="3.5" height="104" fill="url(#rdg)"/><rect x="1735" y="1277" width="3" height="104" fill="url(#rdg)"/><rect x="1745" y="1277" width="3.5" height="104" fill="url(#rdg)"/><ellipse cx="1662.6" cy="1292" rx="4.2" ry="4.8" fill="#2a1010"/><ellipse cx="1662" cy="1289.5" rx="1" ry="1.3" fill="#e0d0d0"/><ellipse cx="1659.8" cy="1347.5" rx="4.8" ry="6" fill="#b82c2c"/><ellipse cx="1659.8" cy="1349.5" rx="2.5" ry="3" fill="#7a1818" opacity="0.6"/><ellipse cx="1661" cy="1375.5" rx="3" ry="2.5" fill="#3a2418" opacity="0.75"/></svg></body></html>
